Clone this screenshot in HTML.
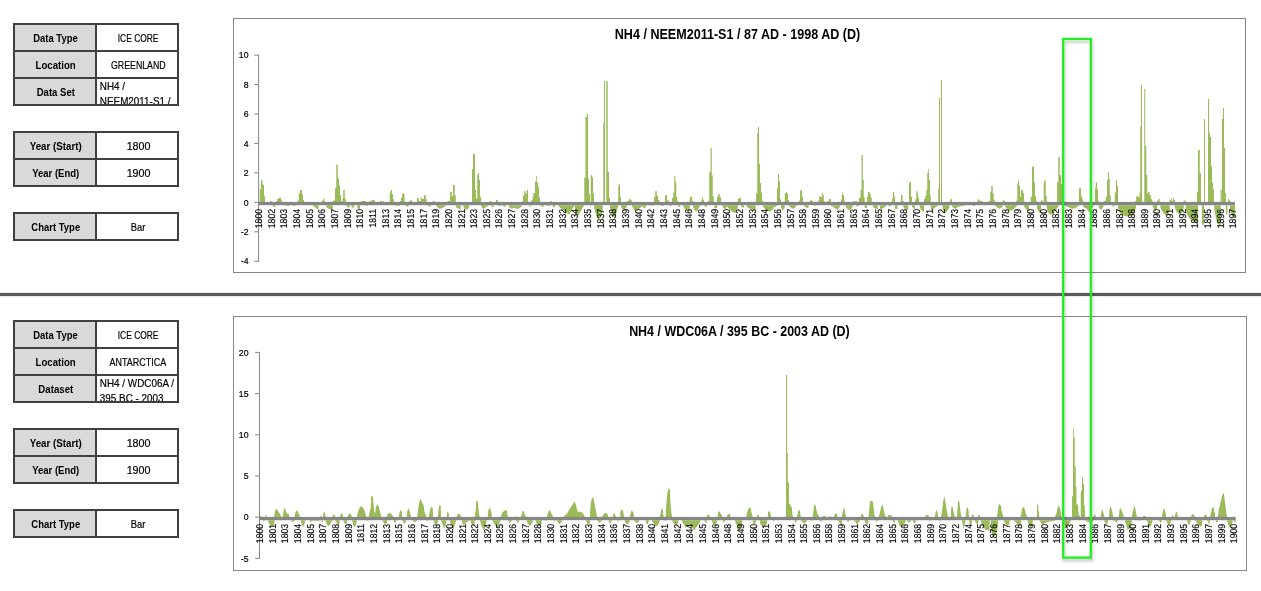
<!DOCTYPE html>
<html><head><meta charset="utf-8"><title>Ice core charts</title>
<style>
html,body{margin:0;padding:0;background:#fff;}
body{will-change:transform;width:1261px;height:591px;position:relative;overflow:hidden;font-family:"Liberation Sans",sans-serif;}
svg{position:absolute;left:0;top:0;}
svg text{font-family:"Liberation Sans",sans-serif;}
.tb{position:absolute;left:13px;width:166px;}
.c{position:absolute;box-sizing:border-box;height:29px;padding-top:3px;border:2px solid #404040;display:flex;align-items:center;justify-content:center;font-size:10.4px;color:#000;white-space:nowrap;overflow:hidden;}
.c.l{left:0;width:84px;padding-left:1.5px;background:#D9D9D9;font-weight:700;}
.c.r{left:82px;width:84px;padding-left:2.5px;background:#fff;-webkit-text-stroke:0.2px #000;}
.c span{display:inline-block;transform:scaleX(0.86);}
.c.l span{transform:scaleX(0.9);}
.c.ml{justify-content:flex-start;align-items:flex-start;white-space:nowrap;}
.c.ml{padding-top:0;padding-left:0}
.c.ml span{transform:scaleX(0.95);transform-origin:0 0;line-height:15px;padding-left:3px;padding-top:0.2px;}
</style></head><body>
<div class="tb" style="top:22.8px;height:81px">
<div class="c l" style="top:0px"><span style="transform:scaleX(0.91)">Data Type</span></div>
<div class="c r" style="top:0px"><span style="transform:scaleX(0.81)">ICE CORE</span></div>
<div class="c l" style="top:27px"><span style="transform:scaleX(0.93)">Location</span></div>
<div class="c r" style="top:27px"><span style="transform:scaleX(0.845)">GREENLAND</span></div>
<div class="c l" style="top:54px"><span style="transform:scaleX(0.92)">Data Set</span></div>
<div class="c r ml" style="top:54px"><span>NH4 /<br>NEEM2011-S1 /</span></div>
</div>
<div class="tb" style="top:130.8px;height:54px">
<div class="c l" style="top:0px"><span style="transform:scaleX(0.94)">Year (Start)</span></div>
<div class="c r" style="top:0px"><span style="transform:scaleX(1.03)">1800</span></div>
<div class="c l" style="top:27px"><span style="transform:scaleX(0.915)">Year (End)</span></div>
<div class="c r" style="top:27px"><span style="transform:scaleX(1.03)">1900</span></div>
</div>
<div class="tb" style="top:211.8px;height:27px">
<div class="c l" style="top:0px"><span style="transform:scaleX(0.912)">Chart Type</span></div>
<div class="c r" style="top:0px"><span style="transform:scaleX(0.9)">Bar</span></div>
</div>
<div class="tb" style="top:319.8px;height:81px">
<div class="c l" style="top:0px"><span style="transform:scaleX(0.91)">Data Type</span></div>
<div class="c r" style="top:0px"><span style="transform:scaleX(0.81)">ICE CORE</span></div>
<div class="c l" style="top:27px"><span style="transform:scaleX(0.93)">Location</span></div>
<div class="c r" style="top:27px"><span style="transform:scaleX(0.865)">ANTARCTICA</span></div>
<div class="c l" style="top:54px"><span style="transform:scaleX(0.93)">Dataset</span></div>
<div class="c r ml" style="top:54px"><span>NH4 / WDC06A /<br>395 BC - 2003</span></div>
</div>
<div class="tb" style="top:427.8px;height:54px">
<div class="c l" style="top:0px"><span style="transform:scaleX(0.94)">Year (Start)</span></div>
<div class="c r" style="top:0px"><span style="transform:scaleX(1.03)">1800</span></div>
<div class="c l" style="top:27px"><span style="transform:scaleX(0.915)">Year (End)</span></div>
<div class="c r" style="top:27px"><span style="transform:scaleX(1.03)">1900</span></div>
</div>
<div class="tb" style="top:508.8px;height:27px">
<div class="c l" style="top:0px"><span style="transform:scaleX(0.912)">Chart Type</span></div>
<div class="c r" style="top:0px"><span style="transform:scaleX(0.9)">Bar</span></div>
</div>
<svg width="1261" height="591" viewBox="0 0 1261 591" style="will-change:transform">
<rect x="233.5" y="18.5" width="1012" height="254" fill="#fff" stroke="#868686" stroke-width="1"/>
<text transform="translate(737.5,39.3) scale(0.873,1)" text-anchor="middle" font-size="14.4" font-weight="700" fill="#000">NH4 / NEEM2011-S1 / 87 AD - 1998 AD (D)</text>
<rect x="258.1" y="54.65" width="1" height="207.08" fill="#868686"/>
<rect x="254.20000000000002" y="54.65" width="4.4" height="1" fill="#868686"/>
<text transform="translate(248.5,58.35) scale(0.97,1)" text-anchor="end" font-size="9.0" fill="#000" stroke="#000" stroke-width="0.2">10</text>
<rect x="254.20000000000002" y="84.09" width="4.4" height="1" fill="#868686"/>
<text transform="translate(248.5,87.79) scale(0.97,1)" text-anchor="end" font-size="9.0" fill="#000" stroke="#000" stroke-width="0.2">8</text>
<rect x="254.20000000000002" y="113.53" width="4.4" height="1" fill="#868686"/>
<text transform="translate(248.5,117.23) scale(0.97,1)" text-anchor="end" font-size="9.0" fill="#000" stroke="#000" stroke-width="0.2">6</text>
<rect x="254.20000000000002" y="142.97" width="4.4" height="1" fill="#868686"/>
<text transform="translate(248.5,146.67) scale(0.97,1)" text-anchor="end" font-size="9.0" fill="#000" stroke="#000" stroke-width="0.2">4</text>
<rect x="254.20000000000002" y="172.41" width="4.4" height="1" fill="#868686"/>
<text transform="translate(248.5,176.11) scale(0.97,1)" text-anchor="end" font-size="9.0" fill="#000" stroke="#000" stroke-width="0.2">2</text>
<rect x="254.20000000000002" y="201.85" width="4.4" height="1" fill="#868686"/>
<text transform="translate(248.5,205.55) scale(0.97,1)" text-anchor="end" font-size="9.0" fill="#000" stroke="#000" stroke-width="0.2">0</text>
<rect x="254.20000000000002" y="231.29" width="4.4" height="1" fill="#868686"/>
<text transform="translate(248.5,234.99) scale(0.97,1)" text-anchor="end" font-size="9.0" fill="#000" stroke="#000" stroke-width="0.2">-2</text>
<rect x="254.20000000000002" y="260.73" width="4.4" height="1" fill="#868686"/>
<text transform="translate(248.5,264.43) scale(0.97,1)" text-anchor="end" font-size="9.0" fill="#000" stroke="#000" stroke-width="0.2">-4</text>
<path d="M259.75 201.90V189.2H261.00V180.3H262.50V184.7H264.00V196.2H265.00V201.90ZM270.00 201.90V200.9H271.75V201.90ZM276.00 201.90V200.9H277.25V198.7H279.00V197.8H281.00V200.6H282.00V201.90ZM297.50 201.90V200.6H298.75V193.2H300.00V190.1H302.00V194.0H303.00V200.0H304.00V201.90ZM322.00 201.90V200.4H323.00V199.0H324.25V200.9H325.00V201.90ZM333.00 201.90V200.4H335.00V188.2H336.25V164.4H337.75V178.4H339.00V185.4H340.00V194.9H341.00V201.2H342.50V198.1H343.25V190.1H344.75V198.7H345.75V201.90ZM361.00 201.90V201.0H366.00V201.90ZM369.75 201.90V200.9H371.75V200.1H374.25V201.0H375.00V201.90ZM380.00 201.90V201.0H382.00V201.90ZM383.00 201.90V201.0H384.00V201.90ZM389.75 201.90V192.4H390.75V190.1H392.00V194.3H393.00V199.3H394.00V201.90ZM399.75 201.90V200.9H401.00V197.4H402.25V193.2H403.75V194.3H404.50V201.2H405.25V201.90ZM409.25 201.90V200.9H410.50V200.1H412.00V201.90ZM417.00 201.90V198.1H418.75V200.9H420.75V197.4H422.00V198.7H424.00V195.2H425.75V199.3H426.75V201.90ZM432.75 201.90V200.9H434.75V201.90ZM447.25 201.90V200.9H450.00V192.1H451.75V196.2H453.00V185.1H454.75V195.3H455.75V201.90ZM472.00 201.90V168.9H473.00V153.8H475.00V190.1H476.00V198.7H477.25V175.0H478.00V173.1H479.00V179.7H480.00V196.8H481.00V201.90ZM489.75 201.90V200.9H491.25V201.90ZM496.00 201.90V200.0H497.75V201.90ZM522.25 201.90V200.9H523.00V195.5H524.25V191.1H525.50V193.6H526.75V190.1H528.00V201.90ZM531.00 201.90V200.6H532.50V196.8H533.25V193.0H535.00V181.6H536.25V176.1H537.00V182.2H538.00V187.3H539.00V197.4H540.00V201.90ZM550.75 201.90V200.9H552.00V201.90ZM584.25 201.90V177.8H585.50V116.9H586.75V114.1H588.00V178.4H589.00V194.0H590.00V201.90ZM590.75 201.90V175.2H592.25V177.8H593.00V193.2H594.00V201.90ZM603.25 201.90V122.9H604.00V81.1H605.00V201.90ZM606.25 201.90V81.1H607.75V172.1H609.00V198.1H610.00V201.90ZM618.25 201.90V186.0H619.00V184.1H620.00V196.5H621.00V201.90ZM627.00 201.90V200.9H629.00V199.3H630.75V200.6H632.00V201.90ZM654.00 201.90V196.8H655.25V191.1H656.75V195.5H658.00V200.0H659.50V201.90ZM665.00 201.90V195.2H667.00V200.4H669.00V201.90ZM672.00 201.90V198.1H673.25V192.4H674.25V176.1H675.25V181.6H676.25V196.8H677.25V200.9H678.00V201.90ZM689.75 201.90V197.2H691.00V196.2H692.00V200.9H693.00V201.90ZM701.25 201.90V200.6H702.25V197.2H703.25V200.0H704.00V201.90ZM708.00 201.90V200.9H709.25V172.1H710.50V147.9H711.75V175.2H712.75V196.5H713.75V201.90ZM717.00 201.90V196.8H718.25V194.0H719.75V197.2H721.00V201.90ZM737.75 201.90V198.7H739.50V197.8H741.00V201.90ZM756.00 201.90V193.6H757.25V133.0H758.00V127.0H759.00V163.8H760.00V183.1H761.00V192.4H762.00V200.9H763.00V201.90ZM777.00 201.90V188.2H778.00V174.0H779.00V181.3H780.00V199.3H781.00V201.90ZM784.75 201.90V193.2H786.00V191.7H787.00V193.6H788.00V200.0H789.00V201.90ZM799.00 201.90V200.6H800.00V190.7H801.00V189.8H802.00V196.8H803.00V201.90ZM809.25 201.90V200.9H810.50V200.0H811.75V200.9H813.00V201.90ZM818.00 201.90V200.6H819.25V196.2H820.75V197.1H822.00V193.0H823.00V194.9H823.75V200.9H824.50V201.90ZM827.00 201.90V200.9H829.00V199.1H830.75V201.90ZM841.00 201.90V199.3H842.00V192.0H842.75V194.9H844.00V200.6H844.75V201.90ZM853.00 201.90V200.9H854.25V201.90ZM855.00 201.90V200.9H856.75V201.90ZM859.00 201.90V197.8H860.50V189.8H861.50V154.9H862.75V179.7H863.75V197.4H864.75V201.90ZM867.00 201.90V197.1H868.00V192.0H869.75V194.0H870.75V197.4H871.75V201.90ZM892.00 201.90V198.7H893.00V192.0H894.25V196.8H895.00V201.90ZM901.00 201.90V194.9H902.50V200.9H903.75V201.90ZM909.00 201.90V183.1H910.00V181.8H911.00V196.8H912.00V201.90ZM915.25 201.90V199.3H916.25V191.1H917.25V193.2H918.00V197.8H919.00V201.90ZM924.00 201.90V198.7H925.25V195.8H926.25V189.8H927.25V172.7H928.25V169.1H929.00V179.7H930.00V194.9H930.75V201.90ZM938.25 201.90V188.2H939.00V97.7H940.00V201.90ZM941.00 201.90V80.1H942.00V201.90ZM949.75 201.90V200.4H950.75V199.1H952.00V201.90ZM977.50 201.90V199.3H978.75V200.6H980.75V200.9H982.50V201.90ZM989.00 201.90V200.9H990.25V191.7H991.25V186.0H992.75V193.6H993.75V200.0H994.75V201.90ZM1002.75 201.90V200.0H1004.00V200.9H1005.00V201.90ZM1016.25 201.90V200.6H1017.25V183.5H1018.00V180.9H1019.00V186.0H1020.00V196.8H1021.00V190.5H1022.00V189.8H1023.00V193.0H1024.00V200.9H1024.50V201.90ZM1030.75 201.90V196.8H1032.00V167.0H1033.00V166.1H1034.00V182.8H1035.00V196.2H1036.00V200.9H1037.00V201.90ZM1041.00 201.90V200.4H1042.75V201.90ZM1043.75 201.90V181.6H1044.75V180.1H1045.75V196.2H1046.75V201.90ZM1057.00 201.90V182.2H1058.25V157.0H1059.75V175.2H1061.00V184.1H1062.25V201.90ZM1079.00 201.90V188.2H1081.00V196.5H1082.00V199.3H1083.00V201.90ZM1095.00 201.90V188.6H1095.75V182.2H1097.00V189.2H1098.00V200.9H1098.75V201.90ZM1103.75 201.90V200.9H1105.75V196.8H1107.00V179.7H1108.00V172.1H1109.00V179.0H1109.75V195.5H1110.75V201.90ZM1114.75 201.90V192.4H1116.00V180.1H1117.00V186.0H1118.00V201.90ZM1135.00 201.90V200.9H1136.25V196.2H1138.00V197.1H1139.50V192.4H1140.25V126.0H1141.00V85.0H1142.00V201.90ZM1144.25 201.90V89.1H1145.25V146.0H1146.25V175.0H1147.25V193.6H1148.00V192.0H1149.50V194.9H1150.75V199.3H1152.00V201.2H1152.75V201.90ZM1157.25 201.90V200.6H1158.50V199.1H1159.75V201.90ZM1169.75 201.90V200.0H1171.00V198.7H1172.00V200.9H1173.00V197.8H1174.00V200.0H1175.00V201.90ZM1183.75 201.90V200.4H1185.75V201.90ZM1197.00 201.90V191.8H1198.00V150.0H1199.75V173.0H1201.00V201.90ZM1204.00 201.90V119.1H1205.00V201.90ZM1208.00 201.90V99.1H1209.00V133.1H1210.00V137.0H1211.00V166.5H1212.00V182.6H1213.00V189.8H1214.00V201.90ZM1220.50 201.90V189.8H1221.75V201.90ZM1222.00 201.90V119.1H1223.00V108.1H1224.00V148.1H1225.00V193.0H1226.00V201.90ZM1228.00 201.90V199.0H1229.00V200.5H1230.25V201.90ZM272.75 205.20V206.7H275.25V205.20ZM284.75 205.20V205.5H285.25V205.6H285.75V205.7H286.25V205.8H286.75V205.9H289.25V205.20ZM292.50 205.20V205.5H292.75V205.6H293.00V205.7H293.50V205.8H293.75V205.9H295.50V205.20ZM312.75 205.20V205.8H313.00V206.0H313.25V206.1H313.50V206.3H313.75V206.4H314.00V206.6H314.25V206.7H314.50V206.9H314.75V207.1H315.00V207.3H315.25V207.5H315.50V207.7H315.75V207.9H316.00V208.1H316.25V208.2H316.50V208.4H316.75V208.6H317.00V208.8H317.25V208.9H318.50V205.20ZM326.00 205.20V206.3H326.25V206.6H326.50V207.0H326.75V207.3H327.00V207.7H327.25V208.0H327.50V208.1H327.75V208.3H328.00V208.4H328.25V208.6H328.50V208.7H328.75V208.9H329.00V209.0H329.25V209.2H329.50V209.3H329.75V209.5H330.25V209.4H331.00V209.3H331.75V209.2H332.75V205.20ZM346.25 205.20V205.7H346.50V206.1H346.75V206.5H347.00V206.8H347.25V207.0H347.50V207.2H347.75V207.4H348.00V207.6H348.25V207.8H348.50V207.9H348.75V207.6H349.00V207.3H349.25V207.0H349.50V206.6H349.75V206.3H350.00V205.9H350.25V205.20ZM351.50 205.20V207.6H354.00V205.20ZM357.25 205.20V206.9H357.50V207.7H357.75V208.3H358.00V208.5H358.25V208.6H358.50V208.8H358.75V209.0H359.00V209.2H360.00V205.20ZM366.00 205.20V205.9H368.00V205.20ZM394.50 205.20V205.5H395.00V205.6H395.50V205.7H396.25V205.8H396.75V205.9H399.75V205.20ZM405.50 205.20V205.9H405.75V206.0H406.00V206.2H406.25V206.3H406.50V206.5H406.75V206.6H407.00V206.7H408.50V205.20ZM427.75 205.20V205.8H428.00V206.0H428.25V206.1H428.50V206.3H428.75V206.5H429.00V206.6H429.25V206.7H430.75V205.20ZM436.50 205.20V206.1H436.75V206.4H437.00V206.7H437.25V207.0H437.50V207.3H437.75V207.6H438.00V207.7H438.25V207.8H438.50V207.9H438.75V208.0H439.00V208.2H439.25V208.3H439.50V208.4H439.75V208.5H440.00V208.6H440.25V208.7H440.50V208.8H441.00V208.6H441.25V208.5H441.50V208.4H441.75V208.2H442.00V208.1H442.25V208.0H442.50V207.9H442.75V207.7H443.00V207.6H443.25V207.5H443.50V207.3H443.75V207.2H444.00V207.0H444.25V206.9H444.50V206.7H444.75V206.6H445.00V206.4H445.25V206.3H445.50V205.20ZM455.75 205.20V206.3H456.00V206.7H456.25V207.1H456.50V207.6H456.75V208.0H457.00V208.3H457.50V208.4H457.75V208.5H458.25V208.6H458.75V208.7H459.00V208.8H459.50V208.9H460.75V205.20ZM463.25 205.20V206.8H463.50V207.2H463.75V207.7H464.00V208.2H464.25V208.6H464.50V208.9H464.75V209.0H465.00V209.1H465.25V209.2H465.50V209.3H466.00V209.4H466.25V209.5H466.50V209.6H466.75V209.7H467.00V209.6H467.25V209.3H467.50V209.0H467.75V208.7H468.00V208.4H468.25V208.1H468.50V207.8H468.75V207.4H469.00V206.8H469.25V205.20ZM481.00 205.20V206.3H481.25V206.7H481.50V207.1H481.75V207.5H482.00V207.7H482.25V207.9H482.50V208.0H482.75V208.2H483.00V208.4H483.25V208.5H483.50V208.7H483.75V208.8H484.00V208.6H484.25V208.4H484.50V208.2H484.75V208.0H485.00V207.7H485.25V207.5H485.50V207.3H485.75V207.1H486.00V207.0H486.25V206.9H486.50V206.8H486.75V206.7H487.00V206.6H487.25V206.4H487.50V206.3H487.75V206.2H488.00V206.0H488.25V205.9H488.50V205.20ZM491.25 205.20V206.7H493.75V205.20ZM498.75 205.20V205.9H501.25V205.20ZM502.50 205.20V205.8H502.75V205.9H503.00V206.1H503.25V206.2H503.50V206.4H503.75V206.5H504.00V206.7H505.75V205.20ZM509.00 205.20V206.6H509.25V207.1H509.50V207.5H509.75V208.0H510.00V208.1H510.25V208.2H510.50V208.3H510.75V208.4H511.00V208.5H511.25V208.6H511.50V208.7H511.75V208.8H512.25V208.7H512.50V208.5H512.75V208.4H513.00V208.3H513.25V208.1H513.50V208.0H513.75V207.8H514.00V207.7H514.25V207.6H514.50V207.8H514.75V207.9H515.00V208.1H515.25V208.2H515.50V208.3H515.75V208.5H516.00V208.6H516.25V208.8H517.25V208.7H518.00V208.6H518.50V208.5H519.00V208.4H519.25V208.2H519.50V208.1H519.75V207.9H520.00V207.7H520.25V207.5H520.50V207.3H520.75V207.1H521.00V206.9H521.25V206.6H521.50V206.3H521.75V205.20ZM529.75 205.20V206.7H531.00V205.20ZM540.00 205.20V205.5H540.25V205.6H540.50V205.8H540.75V205.9H541.00V206.0H541.25V206.2H541.50V206.3H541.75V206.4H542.00V206.6H542.25V206.7H542.50V206.8H542.75V207.0H543.75V205.20ZM545.75 205.20V205.5H546.25V205.6H546.50V205.7H547.00V205.8H547.50V205.9H550.25V205.20ZM552.75 205.20V207.2H555.25V205.20ZM558.50 205.20V206.1H558.75V206.4H559.00V206.6H559.25V206.9H559.50V207.2H559.75V207.4H560.00V207.6H560.25V207.8H560.50V208.0H560.75V208.2H561.00V208.4H561.25V208.6H561.50V208.8H561.75V209.0H562.00V209.2H562.25V209.4H562.50V209.6H562.75V209.8H563.00V210.0H563.25V210.2H563.50V210.4H563.75V210.6H564.00V210.8H564.25V211.0H564.50V211.2H564.75V211.4H565.00V211.6H565.25V211.8H565.50V212.0H565.75V212.2H566.00V212.4H566.25V212.6H566.50V212.8H566.75V213.1H567.00V213.3H567.25V213.5H567.50V213.7H567.75V213.9H568.00V214.2H568.25V214.4H568.50V214.6H568.75V214.8H569.00V214.4H569.25V214.0H569.50V213.6H569.75V213.2H570.00V212.8H570.25V212.4H570.50V212.0H570.75V211.6H571.00V211.2H571.25V210.8H571.50V210.4H571.75V210.0H572.00V209.6H572.25V209.2H572.50V208.7H572.75V208.3H573.00V207.9H573.25V207.5H573.50V207.1H573.75V206.8H574.00V206.7H574.25V206.5H574.50V206.3H574.75V206.2H575.00V215.8H576.50V215.7H576.75V215.5H577.00V215.4H577.25V215.3H577.50V215.2H577.75V215.0H578.00V214.9H578.25V214.8H578.50V214.7H578.75V214.5H579.00V214.0H579.25V213.6H579.50V213.2H579.75V212.7H580.00V212.3H580.25V211.9H580.50V211.5H580.75V211.0H581.00V210.6H581.25V210.1H581.50V209.6H581.75V209.1H582.00V208.6H582.25V208.1H582.50V207.6H582.75V207.1H583.00V206.8H583.25V206.5H583.50V206.3H583.75V206.1H584.00V205.20ZM590.00 205.20V206.3H590.75V205.20ZM594.00 205.20V207.1H594.25V208.2H594.50V209.3H594.75V210.3H595.00V211.3H595.25V212.3H595.50V213.3H595.75V214.3H596.00V215.3H596.25V216.0H596.50V216.4H596.75V216.8H597.00V217.1H597.25V217.5H597.50V217.9H597.75V218.3H598.00V218.6H598.25V219.0H598.50V219.4H598.75V219.5H599.00V219.2H599.25V218.8H599.50V218.5H599.75V218.1H600.00V217.8H600.25V217.4H600.50V217.1H600.75V216.7H601.00V216.4H601.25V216.0H601.50V215.4H601.75V214.2H602.00V213.0H602.25V211.9H602.50V210.7H602.75V205.20ZM610.00 205.20V208.0H610.25V209.0H610.50V209.9H610.75V210.8H611.00V211.5H611.25V212.3H611.50V213.0H611.75V213.7H612.00V214.4H612.25V215.1H612.50V215.8H612.75V216.5H613.00V217.1H613.25V217.0H613.50V216.8H613.75V216.7H614.00V216.6H614.25V216.5H614.50V216.3H614.75V216.2H615.00V216.1H615.25V216.0H615.50V215.8H615.75V214.8H616.00V213.8H616.25V212.8H616.50V211.8H616.75V210.8H617.00V209.8H617.25V208.8H617.50V208.0H617.75V207.4H618.00V206.8H618.25V205.20ZM621.00 205.20V206.9H621.25V207.4H621.50V207.9H621.75V208.4H622.00V208.9H622.25V209.0H622.50V209.1H622.75V209.2H623.00V209.3H623.25V209.5H623.50V209.6H623.75V209.7H624.00V209.8H624.25V209.9H624.50V210.0H625.00V209.5H625.25V209.1H625.50V208.6H625.75V208.1H626.00V207.7H626.25V207.2H626.50V206.7H626.75V206.3H627.00V206.0H627.25V205.20ZM632.00 205.20V206.1H632.25V206.7H632.50V207.3H632.75V207.8H633.00V208.2H633.25V208.6H633.50V209.1H633.75V209.5H634.00V209.9H634.25V210.3H634.50V210.7H635.00V210.6H635.50V210.5H636.00V210.4H636.25V210.3H636.75V210.2H637.00V210.1H637.25V210.0H637.50V209.8H637.75V209.6H638.00V209.4H638.25V209.2H638.50V209.0H638.75V208.9H639.00V208.7H639.25V208.5H639.50V208.3H639.75V208.1H640.00V207.9H640.25V207.7H640.50V207.4H640.75V207.2H641.00V207.0H641.25V206.8H641.50V206.6H641.75V206.4H642.00V206.5H642.25V206.8H642.50V207.0H642.75V207.3H643.00V207.5H643.25V207.8H643.50V208.1H643.75V208.3H644.00V208.6H644.25V208.3H644.50V208.0H644.75V207.7H645.00V207.4H645.25V207.1H645.50V206.8H645.75V206.5H646.00V206.3H646.25V206.0H646.50V205.8H646.75V205.20ZM649.75 205.20V205.5H650.25V205.6H650.50V205.7H650.75V205.8H651.25V205.9H653.00V205.20ZM661.25 205.20V205.9H663.75V205.20ZM669.50 205.20V205.9H671.50V205.20ZM678.00 205.20V206.7H680.25V205.20ZM682.75 205.20V205.9H683.00V206.3H683.25V206.6H683.50V206.9H683.75V207.3H684.00V207.7H684.25V208.1H684.50V208.4H684.75V208.8H685.00V209.2H685.25V209.6H685.50V210.0H685.75V210.2H686.00V210.4H686.25V210.5H686.50V210.6H686.75V210.8H687.00V210.9H687.25V211.1H687.50V211.2H687.75V211.4H688.00V211.1H688.25V210.7H688.50V210.3H688.75V209.9H689.00V209.5H689.25V209.1H689.50V208.3H689.75V205.20ZM693.00 205.20V206.7H693.25V207.4H693.50V208.0H693.75V208.6H694.00V209.1H694.25V209.4H694.50V209.7H694.75V210.1H695.00V210.4H695.25V210.7H695.50V211.1H695.75V211.4H696.00V211.2H696.25V211.1H696.50V210.9H696.75V210.7H697.00V210.6H697.25V210.4H697.50V210.2H697.75V209.9H698.00V209.4H698.25V208.9H698.50V208.4H698.75V207.9H699.00V207.4H699.25V206.9H699.50V206.4H699.75V206.2H700.00V206.1H700.25V205.9H700.50V205.8H700.75V205.20ZM704.00 205.20V205.6H704.25V205.9H704.50V206.1H704.75V206.3H705.00V206.4H705.25V206.5H705.50V206.6H705.75V206.7H706.00V206.9H706.25V207.0H707.00V205.20ZM714.50 205.20V208.0H717.00V205.20ZM722.25 205.20V206.3H722.50V206.7H722.75V207.1H723.00V207.5H723.25V207.8H723.50V208.1H723.75V208.3H724.00V208.6H724.25V208.8H724.50V209.1H724.75V209.3H725.00V209.4H725.25V209.0H725.50V208.6H725.75V208.1H726.00V207.7H726.25V207.3H726.50V206.9H726.75V206.5H727.25V206.8H727.50V207.1H727.75V207.4H728.00V207.6H728.25V207.9H728.50V208.2H728.75V208.5H729.00V208.8H729.25V209.0H729.50V209.3H729.75V209.5H730.00V209.8H730.25V210.0H730.50V210.3H730.75V210.5H731.00V210.8H731.25V211.0H731.50V211.3H731.75V211.5H732.00V211.6H732.25V211.8H732.50V211.9H732.75V212.0H733.00V212.2H733.25V212.3H733.50V212.5H733.75V212.6H734.00V212.7H735.75V212.4H736.00V211.8H736.25V211.3H736.50V210.7H736.75V210.1H737.00V209.6H737.25V208.8H737.50V207.9H737.75V205.20ZM741.00 205.20V206.2H741.25V206.5H741.50V206.7H741.75V207.0H742.00V207.3H742.25V207.5H742.50V207.6H744.00V205.20ZM746.50 205.20V206.4H746.75V206.6H747.00V206.8H747.25V207.1H747.50V207.3H747.75V207.5H748.00V207.8H748.25V208.0H748.50V208.1H748.75V208.2H749.00V208.3H749.25V208.4H749.50V208.5H749.75V208.6H750.00V208.8H750.25V208.9H750.50V209.0H750.75V209.1H751.00V209.2H751.25V209.3H751.50V209.4H751.75V209.5H752.50V209.6H753.50V209.7H755.50V205.20ZM763.00 205.20V206.6H763.25V207.0H763.50V207.4H763.75V207.7H764.00V208.1H764.25V208.4H764.50V208.5H764.75V208.7H765.00V208.9H765.25V209.1H765.50V209.2H765.75V209.4H766.00V209.6H766.25V209.8H766.50V210.0H766.75V210.1H767.00V210.3H767.25V210.4H767.50V210.6H767.75V210.7H768.00V210.9H768.25V211.0H768.50V211.2H768.75V211.3H769.00V211.4H769.25V211.6H769.50V211.7H770.00V211.5H770.25V211.3H770.50V211.1H770.75V211.0H771.00V210.8H771.25V210.6H771.50V210.5H771.75V210.3H772.00V210.1H772.25V209.7H772.50V209.4H772.75V209.0H773.00V208.6H773.25V208.2H773.50V207.8H773.75V207.4H774.00V207.2H774.25V207.1H774.50V207.0H775.00V206.9H775.25V206.8H775.75V206.7H776.00V206.5H776.25V206.3H776.50V206.1H776.75V206.0H777.00V205.20ZM781.00 205.20V207.6H781.25V208.2H781.50V208.8H781.75V209.5H782.00V210.1H782.25V210.7H782.50V210.5H782.75V210.1H783.00V209.8H783.25V209.5H783.50V209.1H783.75V208.8H784.00V208.5H784.25V208.0H784.50V207.1H784.75V205.20ZM789.00 205.20V206.1H789.25V206.4H789.50V206.6H789.75V206.9H790.00V207.1H790.25V207.3H790.50V207.5H790.75V207.6H791.00V207.8H791.25V208.0H791.50V208.1H791.75V208.3H792.00V208.5H792.25V208.6H792.50V208.8H793.00V208.7H793.25V208.5H793.50V208.4H793.75V208.2H794.00V208.1H794.25V208.0H794.50V207.8H794.75V207.7H795.00V207.5H795.25V207.3H795.50V207.0H795.75V206.7H796.00V206.4H796.25V205.20ZM804.25 205.20V206.1H804.50V206.4H804.75V206.7H805.00V207.0H805.25V207.1H805.50V207.2H805.75V207.3H806.00V207.4H806.25V207.5H806.50V207.6H806.75V207.8H807.00V207.9H807.25V208.0H808.50V205.20ZM813.75 205.20V205.9H815.50V205.20ZM830.75 205.20V205.6H831.00V205.8H831.25V205.9H831.50V206.1H831.75V206.2H832.00V206.3H832.25V206.5H832.50V206.7H832.75V206.8H833.00V207.0H833.25V207.2H833.50V207.3H833.75V207.5H834.00V207.6H834.25V207.8H834.50V208.0H834.75V208.1H835.00V208.3H835.25V208.4H835.50V208.6H835.75V208.8H836.00V208.9H836.25V209.1H836.50V209.2H836.75V209.4H837.00V209.5H837.25V209.7H837.50V209.6H837.75V209.2H838.00V208.9H838.25V208.6H838.50V208.3H838.75V208.0H839.00V207.7H839.25V207.4H839.50V207.0H839.75V206.7H840.00V206.4H840.25V205.20ZM845.50 205.20V206.4H845.75V206.8H846.00V207.2H846.25V207.6H846.50V207.9H846.75V208.2H847.00V208.5H847.25V208.8H847.50V209.0H847.75V209.3H848.00V209.6H848.25V209.9H848.50V210.1H848.75V210.0H849.00V209.9H849.25V209.7H849.50V209.6H849.75V209.5H850.00V209.4H850.25V209.2H850.50V209.1H850.75V209.0H851.00V208.8H851.25V208.4H851.50V208.0H851.75V207.6H852.00V207.2H852.25V206.8H852.50V206.4H852.75V206.0H853.00V205.20ZM856.25 205.20V206.3H858.75V205.20ZM864.75 205.20V208.0H867.00V205.20ZM872.75 205.20V206.3H873.00V206.7H873.25V207.2H873.50V207.6H873.75V207.7H874.00V207.8H874.25V208.0H874.50V208.1H874.75V208.2H875.00V208.3H875.25V208.5H875.50V208.6H875.75V208.7H876.00V208.8H876.25V208.9H877.75V205.20ZM879.75 205.20V207.2H880.00V207.7H880.25V208.3H880.50V208.8H880.75V209.4H881.25V209.2H881.50V209.1H881.75V208.9H882.00V208.8H882.25V208.6H882.50V208.5H882.75V208.3H883.00V208.2H883.25V208.0H883.50V207.9H883.75V207.7H884.00V207.6H884.25V207.4H884.50V207.3H884.75V207.1H885.00V207.0H885.25V206.8H885.50V206.6H885.75V206.5H886.00V205.20ZM888.50 205.20V206.3H891.00V205.20ZM895.00 205.20V208.9H897.50V205.20ZM903.25 205.20V206.5H903.50V207.0H903.75V207.6H904.00V208.1H904.25V208.3H904.50V208.5H904.75V208.6H905.00V208.8H905.25V208.9H905.50V209.1H905.75V209.2H906.00V209.4H906.25V209.5H906.50V209.7H908.25V205.20ZM912.00 205.20V206.5H912.25V207.0H912.50V207.6H912.75V207.8H913.00V208.0H913.25V208.2H913.50V208.4H913.75V208.6H914.00V208.8H914.25V208.9H915.00V205.20ZM919.75 205.20V207.1H920.00V207.8H920.25V208.5H920.50V209.3H920.75V209.7H921.00V209.9H921.25V210.1H921.50V210.3H921.75V210.6H922.00V210.8H922.25V211.0H922.50V211.2H922.75V211.4H924.00V205.20ZM930.75 205.20V207.5H931.00V208.6H931.25V209.7H931.50V210.7H931.75V210.5H932.00V210.2H932.25V209.9H932.50V209.7H932.75V209.4H933.00V209.1H933.25V208.9H933.50V208.7H933.75V208.5H934.00V208.3H934.25V208.1H934.50V207.9H934.75V207.8H935.00V207.6H935.25V207.4H935.50V207.2H935.75V207.0H936.00V206.9H936.25V206.7H936.50V206.5H936.75V206.4H937.00V206.2H937.25V206.0H937.50V205.9H937.75V205.7H938.00V205.6H938.25V205.20ZM942.50 205.20V207.4H942.75V208.8H943.00V210.2H943.25V211.0H943.50V211.4H943.75V211.8H944.00V212.2H944.25V212.6H944.50V213.0H944.75V213.2H945.00V213.0H945.25V212.7H945.50V212.5H945.75V212.2H946.00V212.0H946.25V211.7H946.50V211.5H946.75V211.2H947.00V210.8H947.25V210.5H947.50V210.2H947.75V209.8H948.00V209.5H948.25V209.2H948.50V208.8H948.75V208.4H949.00V207.9H949.25V207.4H949.50V205.20ZM952.00 205.20V206.1H952.25V206.5H952.50V206.9H952.75V207.3H953.00V207.6H953.25V207.8H953.50V207.9H953.75V208.1H954.00V208.2H954.25V208.3H954.50V208.5H954.75V208.6H955.00V208.8H955.50V208.6H955.75V208.4H956.00V208.2H956.25V208.0H956.50V207.9H956.75V207.7H957.00V207.5H957.25V207.3H957.50V207.2H957.75V207.1H958.00V207.0H958.50V206.9H958.75V206.8H959.25V206.7H959.50V206.6H960.00V206.5H960.25V206.4H960.75V206.3H961.00V206.2H961.50V206.1H961.75V206.0H962.25V205.9H963.25V205.8H964.25V205.7H965.25V205.6H966.00V205.20ZM973.00 205.20V205.9H975.00V205.20ZM995.25 205.20V205.9H995.50V206.1H995.75V206.4H996.00V206.6H996.25V206.8H996.50V207.0H996.75V207.2H997.00V207.4H997.25V207.6H997.50V207.8H997.75V208.0H998.00V208.2H998.25V208.3H998.50V208.5H998.75V208.7H999.00V208.8H999.25V208.7H999.50V208.6H999.75V208.5H1000.00V208.3H1000.25V208.2H1000.50V208.1H1000.75V208.0H1001.00V207.8H1001.25V207.7H1001.50V207.6H1001.75V207.3H1002.00V207.1H1002.25V206.9H1002.50V206.6H1002.75V205.20ZM1005.00 205.20V206.3H1005.25V206.6H1005.50V207.0H1005.75V207.3H1006.00V207.6H1006.25V207.9H1006.50V208.1H1006.75V208.4H1007.00V208.6H1007.25V208.9H1007.50V209.1H1007.75V209.4H1008.00V209.7H1008.25V209.9H1008.50V210.1H1008.75V210.2H1009.00V210.3H1009.50V210.4H1009.75V210.5H1010.25V210.6H1010.75V210.7H1011.00V210.8H1011.25V210.6H1011.50V210.4H1011.75V210.2H1012.00V210.0H1012.25V209.8H1012.50V209.6H1012.75V209.4H1013.00V209.3H1013.25V209.1H1013.50V208.9H1013.75V208.7H1014.00V208.5H1014.25V208.2H1014.50V208.0H1014.75V207.8H1015.00V207.6H1015.25V207.4H1015.50V207.2H1015.75V207.0H1016.00V206.7H1016.25V206.5H1016.50V206.3H1016.75V205.20ZM1024.00 205.20V206.5H1024.25V206.8H1024.50V207.2H1024.75V207.6H1025.00V207.9H1025.25V208.2H1025.50V208.5H1025.75V208.8H1026.00V209.1H1026.25V209.4H1026.50V209.6H1026.75V209.9H1027.00V210.2H1027.25V210.5H1027.50V210.8H1029.00V205.20ZM1037.00 205.20V208.0H1037.25V209.0H1037.50V210.1H1037.75V210.5H1038.00V210.8H1038.25V211.2H1038.50V211.5H1038.75V211.9H1039.00V212.3H1039.25V212.6H1039.50V213.0H1041.00V205.20ZM1046.75 205.20V208.1H1047.00V209.3H1047.25V210.6H1047.50V211.8H1047.75V212.2H1048.00V212.4H1048.25V212.7H1048.50V212.9H1048.75V213.1H1049.00V213.4H1049.25V213.6H1049.50V213.8H1049.75V214.0H1050.00V214.3H1050.25V214.5H1051.00V214.4H1051.50V214.3H1052.00V214.2H1052.50V214.1H1053.00V214.0H1053.50V213.9H1053.75V213.3H1054.00V212.5H1054.25V211.7H1054.50V210.9H1054.75V210.1H1056.00V209.9H1056.25V209.5H1056.50V209.1H1056.75V208.7H1057.00V208.3H1057.25V207.9H1057.50V207.6H1057.75V207.2H1058.00V206.9H1058.25V206.7H1058.50V206.4H1058.75V205.20ZM1064.25 205.20V205.5H1064.50V205.6H1064.75V205.7H1065.00V205.8H1065.25V205.9H1065.50V206.0H1065.75V206.1H1066.00V206.2H1066.25V206.3H1066.50V206.4H1066.75V206.5H1067.00V206.6H1067.25V206.7H1067.50V206.8H1067.75V206.9H1068.00V207.0H1068.25V207.1H1068.50V207.2H1068.75V207.3H1069.00V207.4H1069.25V207.6H1069.50V207.7H1069.75V207.8H1070.00V207.9H1070.25V208.0H1070.50V208.1H1070.75V208.3H1071.00V208.4H1071.25V208.5H1071.50V208.6H1071.75V208.7H1072.00V208.9H1072.25V208.8H1072.50V208.7H1073.00V208.6H1073.25V208.5H1073.75V208.4H1074.25V208.3H1074.50V208.2H1075.00V208.1H1075.25V208.0H1075.75V207.8H1076.00V207.6H1076.25V207.5H1076.50V207.3H1076.75V207.2H1077.00V207.0H1077.25V206.8H1077.50V206.7H1077.75V206.5H1078.00V206.3H1078.25V206.2H1078.50V206.0H1078.75V205.9H1079.00V205.20ZM1083.00 205.20V206.3H1083.25V206.6H1083.50V206.9H1083.75V207.2H1084.00V207.5H1084.25V207.7H1084.50V207.8H1084.75V207.9H1085.00V208.1H1085.25V208.2H1085.50V208.3H1085.75V208.4H1086.00V208.6H1086.25V208.7H1086.50V208.8H1086.75V209.1H1087.00V209.4H1087.25V209.7H1087.50V210.0H1087.75V210.4H1088.00V210.7H1088.25V211.0H1088.50V211.4H1088.75V211.7H1089.00V212.0H1090.25V205.20ZM1092.00 205.20V207.6H1093.00V205.20ZM1098.75 205.20V206.7H1099.00V207.3H1099.25V208.0H1099.50V208.6H1099.75V208.9H1100.00V209.1H1100.25V209.2H1100.50V209.3H1100.75V209.4H1101.00V209.6H1101.25V209.7H1101.50V209.4H1101.75V208.9H1102.00V208.4H1102.25V208.0H1102.50V207.5H1102.75V207.0H1103.00V206.6H1103.25V206.4H1103.50V206.2H1103.75V205.20ZM1112.00 205.20V206.3H1114.75V205.20ZM1118.00 205.20V207.9H1118.25V208.9H1118.50V209.9H1118.75V210.8H1119.00V211.2H1119.25V211.6H1119.50V211.9H1119.75V212.3H1120.00V212.7H1120.25V213.0H1120.50V213.4H1120.75V213.8H1121.00V214.0H1121.25V214.1H1121.50V214.3H1121.75V214.4H1122.00V214.5H1122.25V214.6H1122.50V214.8H1122.75V214.9H1123.00V215.0H1123.25V215.1H1123.50V215.2H1123.75V215.4H1124.00V215.5H1124.25V215.6H1124.50V215.7H1124.75V215.8H1125.00V215.9H1125.25V216.0H1125.50V216.1H1125.75V216.2H1126.00V216.4H1126.25V216.5H1126.50V216.4H1127.00V216.3H1127.50V216.2H1128.00V216.1H1128.50V216.0H1129.00V215.9H1129.50V215.8H1129.75V215.7H1130.00V215.6H1130.25V215.5H1130.50V215.4H1130.75V215.3H1131.00V215.2H1131.25V215.1H1131.50V215.0H1131.75V214.9H1132.00V214.8H1132.25V214.7H1132.50V214.6H1132.75V214.3H1133.00V213.8H1133.25V213.4H1133.50V212.9H1133.75V212.5H1134.00V212.0H1134.25V211.5H1134.50V211.1H1134.75V210.6H1135.00V210.2H1135.25V209.4H1135.50V208.7H1135.75V207.9H1136.00V205.20ZM1152.75 205.20V206.9H1153.00V207.5H1153.25V208.1H1153.50V208.8H1153.75V209.1H1154.00V209.3H1154.25V209.6H1154.50V209.8H1154.75V210.1H1155.00V210.3H1155.25V210.6H1155.50V210.7H1155.75V210.2H1156.00V209.7H1156.25V209.2H1156.50V208.7H1156.75V208.1H1157.00V206.9H1157.25V205.20ZM1160.25 205.20V207.0H1160.50V207.7H1160.75V208.3H1161.00V208.9H1161.25V209.6H1161.50V210.2H1161.75V210.5H1162.00V210.9H1162.25V211.3H1162.50V211.7H1162.75V212.0H1163.00V212.4H1163.25V212.8H1163.50V213.2H1163.75V213.5H1164.00V213.9H1164.25V214.1H1164.50V214.3H1164.75V214.5H1165.00V214.7H1165.25V214.9H1165.50V215.0H1165.75V215.2H1166.00V215.4H1166.25V215.6H1166.50V215.8H1166.75V215.6H1167.00V215.3H1167.25V215.0H1167.50V214.8H1167.75V214.5H1168.00V214.2H1168.25V213.9H1168.50V213.6H1168.75V213.3H1169.00V212.3H1169.25V211.3H1169.50V210.2H1169.75V205.20ZM1174.75 205.20V207.6H1175.00V208.2H1175.25V208.9H1175.50V209.5H1175.75V210.2H1176.00V210.8H1176.25V211.4H1176.50V211.7H1176.75V212.0H1177.00V212.2H1177.25V212.5H1177.50V212.7H1177.75V213.0H1178.00V213.2H1178.25V213.4H1178.50V213.7H1178.75V213.9H1179.00V214.2H1179.25V214.4H1179.50V214.7H1179.75V214.4H1180.00V214.2H1180.25V213.9H1180.50V213.6H1180.75V213.3H1181.00V213.0H1181.25V212.8H1181.50V212.5H1181.75V212.2H1182.00V211.9H1182.25V211.6H1182.50V211.2H1182.75V210.5H1183.00V209.9H1183.25V209.2H1183.50V208.5H1183.75V205.20ZM1185.75 205.20V208.9H1186.00V210.3H1186.25V211.7H1186.50V213.1H1186.75V213.7H1187.00V214.2H1187.25V214.7H1187.50V215.2H1187.75V215.7H1188.00V216.2H1188.25V216.7H1188.50V217.2H1188.75V217.7H1189.00V218.0H1189.25V218.2H1189.50V218.4H1189.75V218.6H1190.00V218.8H1190.25V219.1H1190.50V219.3H1190.75V219.5H1191.00V219.7H1191.25V220.0H1191.50V220.2H1191.75V220.3H1192.00V220.6H1192.25V220.9H1192.50V221.1H1192.75V221.2H1193.00V221.3H1193.25V221.4H1193.50V221.6H1193.75V221.7H1194.00V221.8H1194.25V222.0H1194.50V222.1H1194.75V222.2H1195.00V222.4H1195.25V222.5H1195.50V222.6H1195.75V222.7H1196.00V222.8H1198.00V205.20ZM1202.00 205.20V224.7H1204.00V205.20ZM1214.25 205.20V208.8H1214.50V210.5H1214.75V212.1H1215.00V213.8H1215.25V215.1H1215.50V216.2H1215.75V217.4H1216.00V218.6H1216.25V219.8H1216.50V220.9H1216.75V222.0H1217.00V222.4H1217.25V222.8H1217.50V223.2H1217.75V223.6H1218.00V224.0H1218.25V224.4H1218.50V224.8H1218.75V225.2H1219.00V225.6H1219.25V225.8H1220.75V205.20ZM1226.00 205.20V214.4H1227.50V205.20ZM1230.00 205.20V208.8H1230.25V210.2H1230.50V211.6H1230.75V212.4H1231.00V213.0H1231.25V213.6H1231.50V214.1H1231.75V214.7H1232.00V215.3H1232.25V215.9H1232.50V216.5H1232.75V217.0H1233.00V217.6H1233.25V217.8H1235.00V205.20Z" fill="#9BBB59"/>
<rect x="258.1" y="201.9" width="976.8000000000001" height="3.30" fill="#868686"/>
<text transform="translate(262.05,208.9) rotate(-90) scale(1,1.13)" text-rendering="geometricPrecision" text-anchor="end" font-size="8.7" fill="#000" stroke="#000" stroke-width="0.12">1800</text>
<text transform="translate(274.70,208.9) rotate(-90) scale(1,1.13)" text-rendering="geometricPrecision" text-anchor="end" font-size="8.7" fill="#000" stroke="#000" stroke-width="0.12">1802</text>
<text transform="translate(287.36,208.9) rotate(-90) scale(1,1.13)" text-rendering="geometricPrecision" text-anchor="end" font-size="8.7" fill="#000" stroke="#000" stroke-width="0.12">1803</text>
<text transform="translate(300.01,208.9) rotate(-90) scale(1,1.13)" text-rendering="geometricPrecision" text-anchor="end" font-size="8.7" fill="#000" stroke="#000" stroke-width="0.12">1804</text>
<text transform="translate(312.67,208.9) rotate(-90) scale(1,1.13)" text-rendering="geometricPrecision" text-anchor="end" font-size="8.7" fill="#000" stroke="#000" stroke-width="0.12">1805</text>
<text transform="translate(325.32,208.9) rotate(-90) scale(1,1.13)" text-rendering="geometricPrecision" text-anchor="end" font-size="8.7" fill="#000" stroke="#000" stroke-width="0.12">1806</text>
<text transform="translate(337.97,208.9) rotate(-90) scale(1,1.13)" text-rendering="geometricPrecision" text-anchor="end" font-size="8.7" fill="#000" stroke="#000" stroke-width="0.12">1807</text>
<text transform="translate(350.63,208.9) rotate(-90) scale(1,1.13)" text-rendering="geometricPrecision" text-anchor="end" font-size="8.7" fill="#000" stroke="#000" stroke-width="0.12">1809</text>
<text transform="translate(363.28,208.9) rotate(-90) scale(1,1.13)" text-rendering="geometricPrecision" text-anchor="end" font-size="8.7" fill="#000" stroke="#000" stroke-width="0.12">1810</text>
<text transform="translate(375.94,208.9) rotate(-90) scale(1,1.13)" text-rendering="geometricPrecision" text-anchor="end" font-size="8.7" fill="#000" stroke="#000" stroke-width="0.12">1811</text>
<text transform="translate(388.59,208.9) rotate(-90) scale(1,1.13)" text-rendering="geometricPrecision" text-anchor="end" font-size="8.7" fill="#000" stroke="#000" stroke-width="0.12">1813</text>
<text transform="translate(401.24,208.9) rotate(-90) scale(1,1.13)" text-rendering="geometricPrecision" text-anchor="end" font-size="8.7" fill="#000" stroke="#000" stroke-width="0.12">1814</text>
<text transform="translate(413.90,208.9) rotate(-90) scale(1,1.13)" text-rendering="geometricPrecision" text-anchor="end" font-size="8.7" fill="#000" stroke="#000" stroke-width="0.12">1815</text>
<text transform="translate(426.55,208.9) rotate(-90) scale(1,1.13)" text-rendering="geometricPrecision" text-anchor="end" font-size="8.7" fill="#000" stroke="#000" stroke-width="0.12">1817</text>
<text transform="translate(439.21,208.9) rotate(-90) scale(1,1.13)" text-rendering="geometricPrecision" text-anchor="end" font-size="8.7" fill="#000" stroke="#000" stroke-width="0.12">1819</text>
<text transform="translate(451.86,208.9) rotate(-90) scale(1,1.13)" text-rendering="geometricPrecision" text-anchor="end" font-size="8.7" fill="#000" stroke="#000" stroke-width="0.12">1820</text>
<text transform="translate(464.51,208.9) rotate(-90) scale(1,1.13)" text-rendering="geometricPrecision" text-anchor="end" font-size="8.7" fill="#000" stroke="#000" stroke-width="0.12">1821</text>
<text transform="translate(477.17,208.9) rotate(-90) scale(1,1.13)" text-rendering="geometricPrecision" text-anchor="end" font-size="8.7" fill="#000" stroke="#000" stroke-width="0.12">1823</text>
<text transform="translate(489.82,208.9) rotate(-90) scale(1,1.13)" text-rendering="geometricPrecision" text-anchor="end" font-size="8.7" fill="#000" stroke="#000" stroke-width="0.12">1825</text>
<text transform="translate(502.48,208.9) rotate(-90) scale(1,1.13)" text-rendering="geometricPrecision" text-anchor="end" font-size="8.7" fill="#000" stroke="#000" stroke-width="0.12">1826</text>
<text transform="translate(515.13,208.9) rotate(-90) scale(1,1.13)" text-rendering="geometricPrecision" text-anchor="end" font-size="8.7" fill="#000" stroke="#000" stroke-width="0.12">1827</text>
<text transform="translate(527.78,208.9) rotate(-90) scale(1,1.13)" text-rendering="geometricPrecision" text-anchor="end" font-size="8.7" fill="#000" stroke="#000" stroke-width="0.12">1828</text>
<text transform="translate(540.44,208.9) rotate(-90) scale(1,1.13)" text-rendering="geometricPrecision" text-anchor="end" font-size="8.7" fill="#000" stroke="#000" stroke-width="0.12">1830</text>
<text transform="translate(553.09,208.9) rotate(-90) scale(1,1.13)" text-rendering="geometricPrecision" text-anchor="end" font-size="8.7" fill="#000" stroke="#000" stroke-width="0.12">1831</text>
<text transform="translate(565.75,208.9) rotate(-90) scale(1,1.13)" text-rendering="geometricPrecision" text-anchor="end" font-size="8.7" fill="#000" stroke="#000" stroke-width="0.12">1832</text>
<text transform="translate(578.40,208.9) rotate(-90) scale(1,1.13)" text-rendering="geometricPrecision" text-anchor="end" font-size="8.7" fill="#000" stroke="#000" stroke-width="0.12">1834</text>
<text transform="translate(591.05,208.9) rotate(-90) scale(1,1.13)" text-rendering="geometricPrecision" text-anchor="end" font-size="8.7" fill="#000" stroke="#000" stroke-width="0.12">1835</text>
<text transform="translate(603.71,208.9) rotate(-90) scale(1,1.13)" text-rendering="geometricPrecision" text-anchor="end" font-size="8.7" fill="#000" stroke="#000" stroke-width="0.12">1837</text>
<text transform="translate(616.36,208.9) rotate(-90) scale(1,1.13)" text-rendering="geometricPrecision" text-anchor="end" font-size="8.7" fill="#000" stroke="#000" stroke-width="0.12">1838</text>
<text transform="translate(629.02,208.9) rotate(-90) scale(1,1.13)" text-rendering="geometricPrecision" text-anchor="end" font-size="8.7" fill="#000" stroke="#000" stroke-width="0.12">1839</text>
<text transform="translate(641.67,208.9) rotate(-90) scale(1,1.13)" text-rendering="geometricPrecision" text-anchor="end" font-size="8.7" fill="#000" stroke="#000" stroke-width="0.12">1840</text>
<text transform="translate(654.32,208.9) rotate(-90) scale(1,1.13)" text-rendering="geometricPrecision" text-anchor="end" font-size="8.7" fill="#000" stroke="#000" stroke-width="0.12">1842</text>
<text transform="translate(666.98,208.9) rotate(-90) scale(1,1.13)" text-rendering="geometricPrecision" text-anchor="end" font-size="8.7" fill="#000" stroke="#000" stroke-width="0.12">1843</text>
<text transform="translate(679.63,208.9) rotate(-90) scale(1,1.13)" text-rendering="geometricPrecision" text-anchor="end" font-size="8.7" fill="#000" stroke="#000" stroke-width="0.12">1845</text>
<text transform="translate(692.29,208.9) rotate(-90) scale(1,1.13)" text-rendering="geometricPrecision" text-anchor="end" font-size="8.7" fill="#000" stroke="#000" stroke-width="0.12">1846</text>
<text transform="translate(704.94,208.9) rotate(-90) scale(1,1.13)" text-rendering="geometricPrecision" text-anchor="end" font-size="8.7" fill="#000" stroke="#000" stroke-width="0.12">1848</text>
<text transform="translate(717.59,208.9) rotate(-90) scale(1,1.13)" text-rendering="geometricPrecision" text-anchor="end" font-size="8.7" fill="#000" stroke="#000" stroke-width="0.12">1849</text>
<text transform="translate(730.25,208.9) rotate(-90) scale(1,1.13)" text-rendering="geometricPrecision" text-anchor="end" font-size="8.7" fill="#000" stroke="#000" stroke-width="0.12">1850</text>
<text transform="translate(742.90,208.9) rotate(-90) scale(1,1.13)" text-rendering="geometricPrecision" text-anchor="end" font-size="8.7" fill="#000" stroke="#000" stroke-width="0.12">1852</text>
<text transform="translate(755.56,208.9) rotate(-90) scale(1,1.13)" text-rendering="geometricPrecision" text-anchor="end" font-size="8.7" fill="#000" stroke="#000" stroke-width="0.12">1853</text>
<text transform="translate(768.21,208.9) rotate(-90) scale(1,1.13)" text-rendering="geometricPrecision" text-anchor="end" font-size="8.7" fill="#000" stroke="#000" stroke-width="0.12">1854</text>
<text transform="translate(780.86,208.9) rotate(-90) scale(1,1.13)" text-rendering="geometricPrecision" text-anchor="end" font-size="8.7" fill="#000" stroke="#000" stroke-width="0.12">1856</text>
<text transform="translate(793.52,208.9) rotate(-90) scale(1,1.13)" text-rendering="geometricPrecision" text-anchor="end" font-size="8.7" fill="#000" stroke="#000" stroke-width="0.12">1857</text>
<text transform="translate(806.17,208.9) rotate(-90) scale(1,1.13)" text-rendering="geometricPrecision" text-anchor="end" font-size="8.7" fill="#000" stroke="#000" stroke-width="0.12">1858</text>
<text transform="translate(818.83,208.9) rotate(-90) scale(1,1.13)" text-rendering="geometricPrecision" text-anchor="end" font-size="8.7" fill="#000" stroke="#000" stroke-width="0.12">1859</text>
<text transform="translate(831.48,208.9) rotate(-90) scale(1,1.13)" text-rendering="geometricPrecision" text-anchor="end" font-size="8.7" fill="#000" stroke="#000" stroke-width="0.12">1860</text>
<text transform="translate(844.13,208.9) rotate(-90) scale(1,1.13)" text-rendering="geometricPrecision" text-anchor="end" font-size="8.7" fill="#000" stroke="#000" stroke-width="0.12">1861</text>
<text transform="translate(856.79,208.9) rotate(-90) scale(1,1.13)" text-rendering="geometricPrecision" text-anchor="end" font-size="8.7" fill="#000" stroke="#000" stroke-width="0.12">1863</text>
<text transform="translate(869.44,208.9) rotate(-90) scale(1,1.13)" text-rendering="geometricPrecision" text-anchor="end" font-size="8.7" fill="#000" stroke="#000" stroke-width="0.12">1864</text>
<text transform="translate(882.10,208.9) rotate(-90) scale(1,1.13)" text-rendering="geometricPrecision" text-anchor="end" font-size="8.7" fill="#000" stroke="#000" stroke-width="0.12">1865</text>
<text transform="translate(894.75,208.9) rotate(-90) scale(1,1.13)" text-rendering="geometricPrecision" text-anchor="end" font-size="8.7" fill="#000" stroke="#000" stroke-width="0.12">1867</text>
<text transform="translate(907.40,208.9) rotate(-90) scale(1,1.13)" text-rendering="geometricPrecision" text-anchor="end" font-size="8.7" fill="#000" stroke="#000" stroke-width="0.12">1868</text>
<text transform="translate(920.06,208.9) rotate(-90) scale(1,1.13)" text-rendering="geometricPrecision" text-anchor="end" font-size="8.7" fill="#000" stroke="#000" stroke-width="0.12">1870</text>
<text transform="translate(932.71,208.9) rotate(-90) scale(1,1.13)" text-rendering="geometricPrecision" text-anchor="end" font-size="8.7" fill="#000" stroke="#000" stroke-width="0.12">1871</text>
<text transform="translate(945.37,208.9) rotate(-90) scale(1,1.13)" text-rendering="geometricPrecision" text-anchor="end" font-size="8.7" fill="#000" stroke="#000" stroke-width="0.12">1872</text>
<text transform="translate(958.02,208.9) rotate(-90) scale(1,1.13)" text-rendering="geometricPrecision" text-anchor="end" font-size="8.7" fill="#000" stroke="#000" stroke-width="0.12">1873</text>
<text transform="translate(970.67,208.9) rotate(-90) scale(1,1.13)" text-rendering="geometricPrecision" text-anchor="end" font-size="8.7" fill="#000" stroke="#000" stroke-width="0.12">1874</text>
<text transform="translate(983.33,208.9) rotate(-90) scale(1,1.13)" text-rendering="geometricPrecision" text-anchor="end" font-size="8.7" fill="#000" stroke="#000" stroke-width="0.12">1875</text>
<text transform="translate(995.98,208.9) rotate(-90) scale(1,1.13)" text-rendering="geometricPrecision" text-anchor="end" font-size="8.7" fill="#000" stroke="#000" stroke-width="0.12">1876</text>
<text transform="translate(1008.64,208.9) rotate(-90) scale(1,1.13)" text-rendering="geometricPrecision" text-anchor="end" font-size="8.7" fill="#000" stroke="#000" stroke-width="0.12">1878</text>
<text transform="translate(1021.29,208.9) rotate(-90) scale(1,1.13)" text-rendering="geometricPrecision" text-anchor="end" font-size="8.7" fill="#000" stroke="#000" stroke-width="0.12">1879</text>
<text transform="translate(1033.94,208.9) rotate(-90) scale(1,1.13)" text-rendering="geometricPrecision" text-anchor="end" font-size="8.7" fill="#000" stroke="#000" stroke-width="0.12">1880</text>
<text transform="translate(1046.60,208.9) rotate(-90) scale(1,1.13)" text-rendering="geometricPrecision" text-anchor="end" font-size="8.7" fill="#000" stroke="#000" stroke-width="0.12">1880</text>
<text transform="translate(1059.25,208.9) rotate(-90) scale(1,1.13)" text-rendering="geometricPrecision" text-anchor="end" font-size="8.7" fill="#000" stroke="#000" stroke-width="0.12">1882</text>
<text transform="translate(1071.91,208.9) rotate(-90) scale(1,1.13)" text-rendering="geometricPrecision" text-anchor="end" font-size="8.7" fill="#000" stroke="#000" stroke-width="0.12">1883</text>
<text transform="translate(1084.56,208.9) rotate(-90) scale(1,1.13)" text-rendering="geometricPrecision" text-anchor="end" font-size="8.7" fill="#000" stroke="#000" stroke-width="0.12">1884</text>
<text transform="translate(1097.21,208.9) rotate(-90) scale(1,1.13)" text-rendering="geometricPrecision" text-anchor="end" font-size="8.7" fill="#000" stroke="#000" stroke-width="0.12">1885</text>
<text transform="translate(1109.87,208.9) rotate(-90) scale(1,1.13)" text-rendering="geometricPrecision" text-anchor="end" font-size="8.7" fill="#000" stroke="#000" stroke-width="0.12">1886</text>
<text transform="translate(1122.52,208.9) rotate(-90) scale(1,1.13)" text-rendering="geometricPrecision" text-anchor="end" font-size="8.7" fill="#000" stroke="#000" stroke-width="0.12">1887</text>
<text transform="translate(1135.18,208.9) rotate(-90) scale(1,1.13)" text-rendering="geometricPrecision" text-anchor="end" font-size="8.7" fill="#000" stroke="#000" stroke-width="0.12">1888</text>
<text transform="translate(1147.83,208.9) rotate(-90) scale(1,1.13)" text-rendering="geometricPrecision" text-anchor="end" font-size="8.7" fill="#000" stroke="#000" stroke-width="0.12">1889</text>
<text transform="translate(1160.48,208.9) rotate(-90) scale(1,1.13)" text-rendering="geometricPrecision" text-anchor="end" font-size="8.7" fill="#000" stroke="#000" stroke-width="0.12">1890</text>
<text transform="translate(1173.14,208.9) rotate(-90) scale(1,1.13)" text-rendering="geometricPrecision" text-anchor="end" font-size="8.7" fill="#000" stroke="#000" stroke-width="0.12">1891</text>
<text transform="translate(1185.79,208.9) rotate(-90) scale(1,1.13)" text-rendering="geometricPrecision" text-anchor="end" font-size="8.7" fill="#000" stroke="#000" stroke-width="0.12">1892</text>
<text transform="translate(1198.45,208.9) rotate(-90) scale(1,1.13)" text-rendering="geometricPrecision" text-anchor="end" font-size="8.7" fill="#000" stroke="#000" stroke-width="0.12">1894</text>
<text transform="translate(1211.10,208.9) rotate(-90) scale(1,1.13)" text-rendering="geometricPrecision" text-anchor="end" font-size="8.7" fill="#000" stroke="#000" stroke-width="0.12">1895</text>
<text transform="translate(1223.75,208.9) rotate(-90) scale(1,1.13)" text-rendering="geometricPrecision" text-anchor="end" font-size="8.7" fill="#000" stroke="#000" stroke-width="0.12">1896</text>
<text transform="translate(1236.41,208.9) rotate(-90) scale(1,1.13)" text-rendering="geometricPrecision" text-anchor="end" font-size="8.7" fill="#000" stroke="#000" stroke-width="0.12">1897</text>
<rect x="233.5" y="316.5" width="1013" height="254" fill="#fff" stroke="#868686" stroke-width="1"/>
<text transform="translate(739.4,336.3) scale(0.866,1)" text-anchor="middle" font-size="14.4" font-weight="700" fill="#000">NH4 / WDC06A / 395 BC - 2003 AD (D)</text>
<rect x="259.0" y="351.9" width="1" height="206.94999999999993" fill="#868686"/>
<rect x="255.1" y="351.90" width="4.4" height="1" fill="#868686"/>
<text transform="translate(248.5,355.60) scale(0.97,1)" text-anchor="end" font-size="9.0" fill="#000" stroke="#000" stroke-width="0.2">20</text>
<rect x="255.1" y="393.09" width="4.4" height="1" fill="#868686"/>
<text transform="translate(248.5,396.79) scale(0.97,1)" text-anchor="end" font-size="9.0" fill="#000" stroke="#000" stroke-width="0.2">15</text>
<rect x="255.1" y="434.28" width="4.4" height="1" fill="#868686"/>
<text transform="translate(248.5,437.98) scale(0.97,1)" text-anchor="end" font-size="9.0" fill="#000" stroke="#000" stroke-width="0.2">10</text>
<rect x="255.1" y="475.47" width="4.4" height="1" fill="#868686"/>
<text transform="translate(248.5,479.17) scale(0.97,1)" text-anchor="end" font-size="9.0" fill="#000" stroke="#000" stroke-width="0.2">5</text>
<rect x="255.1" y="516.66" width="4.4" height="1" fill="#868686"/>
<text transform="translate(248.5,520.36) scale(0.97,1)" text-anchor="end" font-size="9.0" fill="#000" stroke="#000" stroke-width="0.2">0</text>
<rect x="255.1" y="557.85" width="4.4" height="1" fill="#868686"/>
<text transform="translate(248.5,561.55) scale(0.97,1)" text-anchor="end" font-size="9.0" fill="#000" stroke="#000" stroke-width="0.2">-5</text>
<path d="M259.75 516.90V516.7H260.00V515.9H261.25V516.0H261.50V516.90ZM265.00 516.90V516.2H265.25V515.4H265.50V515.5H265.75V515.6H266.00V515.7H266.25V515.8H266.50V516.7H266.75V516.90ZM274.00 516.90V516.4H274.25V515.0H274.50V513.6H274.75V512.3H275.00V510.9H275.25V509.8H275.50V509.7H275.75V509.5H276.00V509.3H276.25V509.1H276.75V509.5H277.00V509.8H277.25V510.2H277.50V510.6H277.75V510.9H278.00V511.3H278.25V511.7H278.50V512.0H278.75V512.4H279.00V512.8H279.25V513.1H279.50V513.5H279.75V514.0H280.00V514.5H280.25V515.0H280.50V515.5H280.75V516.0H281.00V516.5H281.25V516.90ZM282.75 516.90V515.7H283.00V514.2H283.25V512.8H283.50V511.5H283.75V510.6H284.00V509.6H284.25V508.7H284.50V507.7H284.75V507.2H285.00V508.1H285.25V509.1H285.50V510.0H285.75V511.0H286.00V511.9H286.25V512.2H286.50V512.6H286.75V513.0H287.00V513.4H287.25V513.7H287.50V513.8H287.75V513.9H288.00V514.0H288.25V514.1H288.50V514.2H288.75V514.3H289.00V515.5H289.25V516.90ZM294.50 516.90V516.7H294.75V515.2H295.00V513.8H295.25V512.4H295.50V512.0H295.75V511.6H296.00V511.2H296.25V510.7H296.50V510.3H296.75V509.9H297.00V510.4H297.25V510.9H297.50V511.4H297.75V511.9H298.00V512.4H298.25V512.9H298.50V513.4H298.75V513.9H299.00V514.4H299.25V514.9H299.50V515.6H299.75V516.4H300.00V516.90ZM319.75 516.90V516.7H320.00V516.5H320.25V516.2H320.50V516.0H321.00V516.3H321.25V516.6H321.50V516.90ZM323.00 516.90V515.5H323.25V514.0H323.50V512.9H323.75V512.4H324.00V512.0H324.25V511.5H324.50V511.7H324.75V513.2H325.00V514.7H325.25V515.6H325.50V516.3H325.75V516.90ZM332.75 516.90V516.1H333.00V515.2H333.25V514.3H333.75V514.5H334.00V514.8H334.25V515.0H334.50V515.3H334.75V515.5H335.00V516.5H335.25V516.90ZM339.75 516.90V516.6H340.00V515.9H340.25V515.2H340.50V514.4H340.75V514.0H341.00V513.5H341.25V513.1H341.50V513.0H341.75V513.5H342.00V514.0H342.25V514.6H342.50V515.2H342.75V515.9H343.00V516.7H343.25V516.90ZM347.75 516.90V516.3H348.00V515.7H348.25V515.0H348.50V514.4H348.75V514.1H349.00V513.8H349.25V513.5H349.50V513.2H349.75V512.9H350.00V513.2H350.25V513.7H350.50V514.2H350.75V514.7H351.00V515.2H351.25V515.7H351.50V516.1H351.75V516.5H352.00V516.90ZM357.00 516.90V515.8H357.25V514.5H357.50V513.3H357.75V512.2H358.00V511.6H358.25V511.0H358.50V510.4H358.75V509.7H359.00V509.1H359.25V508.5H359.50V508.1H359.75V507.7H360.00V507.3H360.25V506.8H360.50V506.4H360.75V506.0H361.25V506.3H361.50V506.6H361.75V506.9H362.00V507.2H362.25V507.5H362.50V507.8H362.75V508.0H363.00V508.2H363.25V508.4H363.50V508.6H363.75V508.8H364.00V509.0H364.25V509.9H364.50V510.8H364.75V511.7H365.00V512.7H365.25V513.6H365.50V514.6H365.75V515.7H366.00V516.7H366.25V516.90ZM368.50 516.90V516.6H368.75V515.4H369.00V514.1H369.25V512.9H369.50V511.7H369.75V510.9H370.00V510.0H370.25V509.2H370.50V508.4H370.75V503.7H371.00V496.3H372.75V497.5H373.00V500.1H373.25V502.7H373.50V505.2H373.75V507.7H374.00V510.2H374.25V511.9H374.50V512.2H374.75V512.5H375.00V512.8H375.25V512.3H375.50V509.5H375.75V507.2H376.00V506.6H376.25V506.1H376.50V505.5H376.75V504.9H377.00V504.4H377.25V504.5H377.50V504.9H377.75V505.3H378.00V505.7H378.25V506.1H378.50V506.5H378.75V507.3H379.00V508.3H379.25V509.3H379.50V510.3H379.75V511.3H380.00V512.2H380.25V513.1H380.50V514.0H380.75V514.9H381.00V516.2H381.25V516.90ZM386.75 516.90V516.5H387.00V515.9H387.25V515.3H387.50V514.6H387.75V514.0H388.00V513.6H388.25V513.5H388.50V513.3H388.75V513.2H389.00V513.0H389.25V512.9H389.75V513.0H390.00V513.2H390.25V513.3H390.50V513.5H390.75V513.6H391.00V513.8H391.25V514.1H391.50V514.5H391.75V514.8H392.00V515.1H392.25V515.5H392.50V515.8H392.75V516.2H393.00V516.6H393.25V516.90ZM398.75 516.90V516.2H399.00V514.5H399.25V512.7H399.50V512.0H399.75V511.5H400.00V511.0H400.25V510.5H400.50V510.0H400.75V510.2H401.00V510.6H401.25V510.9H401.50V511.3H401.75V511.7H402.00V515.2H402.25V516.90ZM406.75 516.90V514.9H407.00V512.6H407.25V510.9H407.50V510.3H407.75V509.7H408.00V509.1H408.25V508.4H408.50V508.2H408.75V509.0H409.00V509.8H409.25V510.6H409.50V511.4H409.75V512.3H410.00V513.2H410.25V514.0H410.50V515.0H410.75V516.0H411.00V516.90ZM417.25 516.90V516.1H417.50V514.0H417.75V511.8H418.00V509.7H418.25V507.9H418.50V506.3H418.75V504.7H419.00V503.1H419.25V501.4H419.50V500.7H419.75V500.4H420.00V500.0H420.25V499.6H420.50V499.2H420.75V499.5H421.00V500.1H421.25V500.8H421.50V501.4H421.75V502.0H422.00V502.6H422.25V503.0H422.50V503.5H422.75V504.0H423.00V504.5H423.25V505.0H423.50V505.4H423.75V507.2H424.00V509.0H424.25V510.8H424.50V512.1H424.75V512.7H425.00V513.3H425.25V513.9H425.50V514.6H425.75V515.4H426.00V516.7H426.25V516.90ZM429.00 516.90V515.7H429.25V514.0H429.50V512.3H429.75V510.6H430.00V509.5H430.25V508.9H430.50V508.3H430.75V507.6H431.00V507.0H431.25V506.9H431.50V507.1H431.75V507.4H432.00V507.6H432.25V507.9H432.50V508.1H432.75V511.9H433.00V516.90ZM437.75 516.90V516.5H438.00V513.8H438.25V511.0H438.50V509.1H438.75V507.7H439.00V506.4H439.25V505.1H439.50V505.3H439.75V505.4H440.00V505.6H440.25V505.8H440.50V506.0H440.75V510.9H441.00V516.90ZM446.75 516.90V515.7H447.00V513.7H447.25V511.8H447.50V512.1H447.75V512.3H448.00V512.6H448.25V512.8H448.50V513.1H448.75V515.5H449.00V516.90ZM457.00 516.90V515.8H457.25V514.7H457.50V514.1H459.50V514.3H459.75V514.6H460.00V514.9H460.25V515.2H460.50V515.5H460.75V516.6H461.00V516.90ZM474.75 516.90V515.6H475.00V514.2H475.25V512.8H475.50V511.4H475.75V507.7H476.00V503.7H476.25V501.0H477.75V501.7H478.00V504.7H478.25V507.7H478.50V510.4H478.75V512.9H479.00V515.1H479.25V515.6H479.50V516.1H479.75V516.7H480.00V516.90ZM487.75 516.90V515.1H488.00V512.4H488.25V509.9H488.50V509.5H488.75V509.1H489.00V508.7H489.25V508.4H489.50V508.0H489.75V508.4H490.00V508.8H490.25V509.1H490.50V509.5H490.75V509.9H491.00V511.3H491.25V512.8H491.50V514.3H491.75V515.9H492.00V516.90ZM501.00 516.90V516.5H501.25V515.4H501.50V514.4H501.75V513.3H502.00V512.9H502.25V512.6H502.50V512.4H502.75V512.1H503.00V511.9H503.25V511.6H503.50V511.4H503.75V511.1H504.00V511.0H504.25V510.8H504.50V510.6H504.75V510.5H505.00V510.3H505.25V510.1H505.50V510.0H506.00V510.1H506.25V510.2H506.50V510.3H506.75V510.5H507.00V511.7H507.25V514.2H507.50V515.5H507.75V516.8H508.00V516.90ZM515.00 516.90V516.7H515.25V516.3H515.50V515.9H515.75V516.2H516.00V516.6H516.25V516.90ZM521.00 516.90V516.3H521.25V515.4H521.50V514.5H521.75V513.6H522.00V512.7H522.25V511.8H522.50V510.9H522.75V511.0H523.25V511.1H523.75V511.6H524.00V512.5H524.25V513.5H524.50V514.4H524.75V515.1H525.00V515.5H525.25V515.8H525.50V516.2H525.75V516.6H526.00V516.90ZM547.00 516.90V516.2H547.25V515.1H547.50V514.1H547.75V513.0H548.00V512.2H548.25V511.8H548.50V511.4H548.75V511.0H549.00V510.6H549.25V510.1H549.75V510.6H550.00V511.1H550.25V511.6H550.50V512.1H550.75V512.6H551.00V513.1H551.25V513.6H551.50V514.1H551.75V514.6H552.00V515.1H552.25V515.6H552.50V516.0H552.75V516.5H553.00V516.90ZM563.50 516.90V516.7H563.75V516.5H564.00V516.2H564.25V516.0H564.50V515.7H564.75V515.5H565.00V515.2H565.25V515.0H565.50V514.7H565.75V514.5H566.00V514.2H566.25V514.0H566.50V513.7H566.75V513.5H567.00V513.2H567.25V512.9H567.50V512.5H567.75V512.0H568.00V511.6H568.25V511.2H568.50V510.7H568.75V510.3H569.00V509.8H569.25V509.4H569.50V509.0H569.75V508.6H570.00V508.2H570.25V507.8H570.50V507.4H570.75V507.1H571.00V506.7H571.25V506.3H571.50V505.9H571.75V505.6H572.00V505.2H572.25V504.8H572.50V504.4H572.75V504.0H573.00V503.6H573.25V503.3H573.50V502.9H573.75V502.5H574.00V502.1H574.25V501.9H574.50V501.8H574.75V501.7H575.00V502.6H575.25V503.2H575.50V503.8H575.75V504.5H576.00V505.4H576.25V506.6H576.50V507.9H576.75V509.1H577.00V509.8H577.25V510.3H577.50V510.9H577.75V511.4H578.00V512.0H578.50V511.9H579.00V511.8H579.25V511.7H579.75V511.6H580.25V511.7H580.50V511.8H580.75V511.9H581.00V512.0H581.25V512.2H581.50V512.3H581.75V512.4H582.00V512.6H582.25V513.0H582.50V513.3H582.75V513.6H583.00V513.9H583.25V514.3H583.50V514.6H583.75V515.0H584.00V515.5H584.25V515.9H584.50V516.4H584.75V516.8H585.00V516.90ZM590.00 516.90V512.4H590.25V508.0H590.50V505.8H590.75V503.6H591.00V501.4H591.25V500.1H591.50V499.4H591.75V498.8H592.00V498.2H592.25V497.6H592.50V497.4H592.75V497.8H593.00V498.1H593.25V498.5H593.50V498.9H593.75V499.7H594.00V501.3H594.25V502.9H594.50V504.5H594.75V505.8H595.00V507.1H595.25V508.3H595.50V509.6H595.75V510.8H596.00V512.1H596.25V513.3H596.50V514.7H596.75V516.3H597.00V516.90ZM602.00 516.90V516.5H602.25V516.2H602.50V515.8H602.75V515.4H603.00V515.0H603.25V514.6H603.50V514.3H603.75V514.0H604.00V513.8H604.25V513.6H604.50V513.4H604.75V513.1H605.00V512.9H605.50V513.0H605.75V513.1H606.25V513.2H606.50V513.3H606.75V513.4H607.00V513.7H607.25V514.0H607.50V514.4H607.75V514.8H608.00V516.0H608.25V516.90ZM612.75 516.90V516.6H613.00V515.5H613.25V514.4H613.50V513.9H613.75V513.6H614.00V513.3H614.25V513.1H614.50V512.9H614.75V513.8H615.00V514.8H615.25V515.6H615.50V516.0H615.75V516.4H616.00V516.7H616.25V516.90ZM620.00 516.90V515.9H620.25V512.6H620.50V511.4H620.75V510.8H621.00V510.3H621.25V509.7H621.50V509.2H622.00V509.5H622.25V509.8H622.50V510.1H622.75V510.4H623.00V511.3H623.25V512.6H623.50V513.9H623.75V516.0H624.00V516.90ZM629.75 516.90V516.6H630.00V515.6H630.25V514.5H630.50V513.4H630.75V512.3H631.00V511.7H631.25V511.1H631.50V510.4H632.00V510.7H632.25V511.0H632.50V511.4H632.75V511.7H633.00V512.1H633.25V513.0H633.50V513.9H633.75V515.5H634.00V516.90ZM659.75 516.90V516.4H660.00V515.4H660.25V514.3H660.50V513.2H660.75V511.8H661.00V510.4H661.25V509.0H661.50V508.1H661.75V508.3H662.00V508.6H662.25V508.8H662.50V509.1H662.75V510.0H663.00V513.4H663.25V515.0H663.50V516.0H663.75V516.90ZM665.75 516.90V512.9H666.00V506.0H666.25V503.4H666.50V500.8H666.75V498.1H667.00V495.5H667.25V492.9H667.50V491.9H667.75V491.0H668.00V490.0H668.25V489.1H668.50V488.2H668.75V488.3H669.00V488.6H669.25V488.9H669.50V489.2H669.75V489.5H670.00V494.9H670.25V501.4H670.50V504.9H670.75V507.4H671.00V509.9H671.25V512.4H671.50V514.1H671.75V515.6H672.00V516.90ZM706.25 516.90V516.8H706.50V516.5H706.75V516.2H707.00V515.9H707.25V515.6H707.50V515.0H707.75V514.5H708.00V514.0H708.25V513.9H708.50V514.4H708.75V514.9H709.00V515.3H709.25V515.9H709.50V516.5H709.75V516.90ZM717.75 516.90V515.6H718.00V512.7H718.25V512.2H718.50V511.9H718.75V511.6H719.00V511.3H719.25V511.0H719.50V511.4H719.75V511.9H720.00V512.5H720.25V513.0H720.50V513.6H720.75V514.0H721.00V514.4H721.25V514.7H721.50V515.1H721.75V515.5H722.00V516.5H722.25V516.90ZM726.75 516.90V516.3H727.00V515.7H727.25V515.3H727.50V515.1H727.75V514.8H728.00V514.6H728.25V514.4H728.50V514.2H728.75V514.0H729.00V513.8H729.50V514.0H729.75V514.2H730.00V514.7H730.25V516.3H730.50V516.90ZM746.25 516.90V515.8H746.50V514.6H746.75V513.3H747.00V512.3H747.25V511.6H747.50V510.9H747.75V510.2H748.00V509.6H748.25V508.9H748.50V508.2H748.75V507.9H749.00V507.7H749.25V507.5H749.50V507.4H749.75V507.2H750.00V507.0H750.25V507.6H750.50V508.6H750.75V509.6H751.00V510.7H751.25V511.8H751.50V513.1H751.75V514.3H752.00V515.6H752.25V516.1H752.50V516.6H752.75V516.90ZM756.75 516.90V516.6H757.00V515.4H757.25V515.0H757.50V515.1H758.00V515.2H758.50V515.3H758.75V515.5H759.00V516.90ZM767.75 516.90V515.4H768.00V512.6H768.25V511.2H769.50V511.4H769.75V512.1H770.00V512.7H770.25V513.3H770.50V514.2H770.75V515.4H771.00V516.7H771.25V516.90ZM786.00 516.90V375.0H787.00V453.0H787.75V482.6H789.00V503.2H789.25V503.7H789.50V504.1H789.75V504.5H790.00V504.9H790.25V505.3H790.50V505.7H790.75V506.2H791.00V506.6H791.25V507.1H791.50V507.6H791.75V508.3H792.00V511.4H792.25V514.4H792.50V515.2H792.75V516.1H793.00V516.90ZM797.00 516.90V516.0H797.25V515.0H797.50V513.9H797.75V512.8H798.00V511.7H798.25V510.5H798.50V510.2H798.75V510.3H799.25V510.4H799.75V510.5H800.00V512.3H800.25V515.0H800.50V515.8H800.75V516.5H801.00V516.90ZM812.75 516.90V515.3H813.00V513.4H813.25V511.6H813.50V509.6H813.75V507.6H814.00V505.7H814.25V504.2H814.50V504.5H814.75V504.7H815.00V505.0H815.25V505.2H815.50V505.7H815.75V507.2H816.00V508.7H816.25V509.8H816.50V510.7H816.75V511.6H817.00V512.4H817.25V513.3H817.50V514.0H817.75V514.5H818.00V515.1H818.25V515.6H818.50V516.1H818.75V516.6H819.00V516.90ZM822.50 516.90V516.8H822.75V516.6H823.00V516.4H823.25V516.2H823.50V516.0H823.75V515.9H824.25V516.0H824.75V516.1H825.25V516.2H825.75V516.5H826.00V516.90ZM829.00 516.90V516.7H829.25V516.4H829.50V516.2H829.75V515.9H830.00V516.1H830.25V516.4H830.50V516.7H830.75V516.90ZM834.00 516.90V516.4H834.25V515.7H834.50V514.9H834.75V514.1H835.00V513.7H835.25V513.5H835.50V513.4H835.75V513.3H836.00V513.2H836.25V513.1H836.50V513.5H836.75V514.5H837.00V515.5H837.25V516.0H837.50V516.5H837.75V516.90ZM841.75 516.90V516.7H842.00V515.3H842.25V513.8H842.50V512.4H842.75V511.0H843.00V509.7H843.25V508.9H843.50V508.7H843.75V508.5H844.00V508.2H844.25V508.0H844.50V509.4H844.75V510.8H845.00V512.3H845.25V513.6H845.50V514.8H845.75V516.1H846.00V516.90ZM860.75 516.90V515.8H861.00V514.7H861.25V514.1H862.50V514.3H862.75V514.8H863.00V515.3H863.25V515.8H863.50V516.1H863.75V516.5H864.00V516.8H864.25V516.90ZM868.75 516.90V513.7H869.00V510.4H869.25V507.7H869.50V505.5H869.75V503.4H870.00V501.2H870.25V501.0H871.75V501.1H872.00V501.3H872.25V501.6H872.50V501.8H872.75V502.1H873.00V502.8H873.25V505.3H873.50V507.8H873.75V510.1H874.00V512.4H874.25V514.5H874.50V515.5H874.75V516.5H875.00V516.90ZM878.75 516.90V516.2H879.00V515.4H879.25V514.6H879.50V513.8H879.75V512.8H880.00V511.7H880.25V510.5H880.50V509.4H880.75V508.3H881.00V507.4H881.25V506.7H881.50V505.9H881.75V505.2H882.00V504.4H882.25V504.7H882.50V505.5H882.75V506.3H883.00V507.1H883.25V508.1H883.50V509.4H883.75V510.6H884.00V511.9H884.25V512.8H884.50V513.7H884.75V514.7H885.00V515.6H885.25V516.1H885.50V516.6H885.75V516.90ZM888.00 516.90V516.3H888.25V515.5H888.50V515.0H890.50V515.1H890.75V515.4H891.00V515.6H891.25V515.9H891.50V516.1H891.75V516.4H892.00V516.6H892.25V516.90ZM924.75 516.90V516.8H925.00V516.5H925.25V516.2H925.50V515.9H925.75V515.6H926.00V515.3H926.75V515.2H927.25V515.1H927.75V515.0H928.25V515.3H928.50V515.9H928.75V516.5H929.00V516.90ZM935.00 516.90V515.8H935.25V514.1H935.50V512.4H935.75V511.8H936.00V511.1H936.25V510.5H936.50V509.9H936.75V510.6H937.00V511.3H937.25V512.0H937.50V513.2H937.75V515.0H938.00V516.7H938.25V516.90ZM941.00 516.90V515.9H941.25V514.7H941.50V513.4H941.75V512.2H942.00V510.3H942.25V508.1H942.50V505.9H942.75V503.7H943.00V502.1H943.25V500.7H943.50V499.3H943.75V497.9H944.00V496.6H944.25V496.5H944.50V497.6H944.75V498.7H945.00V499.7H945.25V501.5H945.50V503.2H945.75V504.9H946.00V506.6H946.25V508.1H946.50V509.5H946.75V510.9H947.00V512.3H947.25V513.5H947.50V514.8H947.75V516.0H948.00V516.90ZM950.75 516.90V515.9H951.00V509.7H951.25V507.2H951.50V507.0H951.75V506.7H952.00V506.5H952.25V506.2H952.50V506.9H952.75V508.3H953.00V509.7H953.25V511.2H953.50V512.1H953.75V513.0H954.00V514.0H954.25V514.9H954.50V515.9H954.75V516.8H955.00V516.90ZM957.00 516.90V514.2H957.25V510.7H957.50V507.7H957.75V504.8H958.00V501.9H958.25V501.1H958.50V501.2H958.75V501.4H959.00V501.5H959.25V501.6H959.50V503.4H959.75V506.1H960.00V508.8H960.25V510.6H960.50V512.4H960.75V514.2H961.00V515.4H961.25V516.1H961.50V516.90ZM965.75 516.90V516.0H966.00V512.6H966.25V509.7H966.50V509.0H966.75V508.3H967.00V507.6H967.25V507.1H967.50V507.6H967.75V508.2H968.00V508.8H968.25V509.6H968.50V512.6H968.75V515.6H969.00V516.90ZM971.75 516.90V516.4H972.00V515.3H972.25V514.2H972.50V514.3H972.75V514.6H973.00V514.8H973.25V515.1H973.50V515.3H973.75V516.1H974.00V516.90ZM977.75 516.90V516.5H978.00V515.9H978.25V515.3H978.50V515.0H978.75V515.1H979.00V515.2H979.50V515.3H979.75V516.0H980.00V516.90ZM997.00 516.90V515.5H997.25V514.0H997.50V512.3H997.75V510.2H998.00V508.0H998.25V505.9H998.50V505.2H998.75V504.9H999.00V504.6H999.25V504.3H999.50V504.0H999.75V504.2H1000.00V504.7H1000.25V505.1H1000.50V505.5H1000.75V505.9H1001.00V507.1H1001.25V508.7H1001.50V510.3H1001.75V511.9H1002.00V512.7H1002.25V513.4H1002.50V514.2H1002.75V515.0H1003.00V516.3H1003.25V516.90ZM1020.75 516.90V515.7H1021.00V514.4H1021.25V513.1H1021.50V511.7H1021.75V510.3H1022.00V508.9H1022.25V507.9H1022.50V507.7H1022.75V507.5H1023.00V507.3H1023.25V507.1H1023.75V507.4H1024.00V507.8H1024.25V508.2H1024.50V508.5H1024.75V509.4H1025.00V510.5H1025.25V511.6H1025.50V512.7H1025.75V513.5H1026.00V514.2H1026.25V514.9H1026.50V515.6H1026.75V516.2H1027.00V516.7H1027.25V516.90ZM1037.00 516.90V504.2H1038.00V506.1H1038.25V510.7H1038.50V511.4H1038.75V511.6H1039.00V515.4H1039.25V516.90ZM1055.00 516.90V516.6H1055.25V516.1H1055.50V515.6H1055.75V515.1H1056.00V514.6H1056.25V513.8H1056.50V512.6H1056.75V511.3H1057.00V510.1H1057.25V509.0H1057.50V508.1H1057.75V507.3H1058.00V506.5H1058.25V505.7H1058.50V505.2H1058.75V505.8H1059.00V506.4H1059.25V507.0H1059.50V507.5H1059.75V508.2H1060.00V509.3H1060.25V510.4H1060.50V511.4H1060.75V514.0H1061.00V516.90ZM1072.00 516.90V496.5H1072.25V496.4H1072.50V496.2H1072.75V496.1H1073.00V427.4H1073.75V437.6H1074.75V466.2H1075.75V486.7H1076.50V504.3H1076.75V504.4H1077.00V504.5H1077.25V504.6H1077.50V504.7H1077.75V504.8H1078.00V507.3H1078.25V511.4H1078.50V513.5H1078.75V514.2H1079.00V514.9H1079.25V515.6H1079.50V516.0H1079.75V516.5H1080.00V516.9H1080.75V493.1H1081.00V490.4H1082.00V477.4H1083.00V483.9H1084.00V505.2H1084.75V510.0H1085.00V516.90ZM1093.75 516.90V516.1H1094.00V515.0H1094.25V514.1H1094.50V514.4H1094.75V514.7H1095.00V515.0H1095.25V515.3H1095.50V515.7H1095.75V516.90ZM1100.75 516.90V515.6H1101.00V513.8H1101.25V512.3H1101.50V511.4H1101.75V510.6H1102.00V509.7H1102.25V509.2H1102.50V510.1H1102.75V511.1H1103.00V512.1H1103.25V512.9H1103.50V513.8H1103.75V514.6H1104.00V515.5H1104.25V516.4H1104.50V516.90ZM1109.00 516.90V513.7H1109.25V510.3H1109.50V509.3H1109.75V508.4H1110.00V507.4H1110.25V506.4H1110.50V506.5H1110.75V507.1H1111.00V507.8H1111.25V508.4H1111.50V509.2H1111.75V510.1H1112.00V511.0H1112.25V511.9H1112.50V513.6H1112.75V515.2H1113.00V516.90ZM1118.75 516.90V516.4H1119.00V513.7H1119.25V510.9H1119.50V509.6H1119.75V509.2H1120.00V508.8H1120.25V508.4H1120.50V508.0H1120.75V508.7H1121.00V509.3H1121.25V509.9H1121.50V510.5H1121.75V511.2H1122.00V511.8H1122.25V512.4H1122.50V513.0H1122.75V513.7H1123.00V514.3H1123.25V515.1H1123.50V515.9H1123.75V516.8H1124.00V516.90ZM1131.75 516.90V516.4H1132.00V515.1H1132.25V513.9H1132.50V512.6H1132.75V511.5H1133.00V510.4H1133.25V509.3H1133.50V508.2H1133.75V507.5H1134.00V506.9H1134.25V506.3H1134.50V506.1H1134.75V507.2H1135.00V508.3H1135.25V509.5H1135.50V510.7H1135.75V512.0H1136.00V513.2H1136.25V514.5H1136.50V515.7H1136.75V516.90ZM1142.75 516.90V516.8H1143.00V516.6H1143.25V516.3H1143.50V516.1H1143.75V515.9H1145.50V516.2H1145.75V516.6H1146.00V516.90ZM1162.00 516.90V515.9H1162.25V514.1H1162.50V512.4H1162.75V511.4H1163.00V510.5H1163.25V509.5H1163.50V509.0H1163.75V509.1H1164.25V509.2H1164.75V509.7H1165.00V510.8H1165.25V511.9H1165.50V512.9H1165.75V515.2H1166.00V516.90ZM1171.75 516.90V516.5H1172.00V515.8H1172.25V515.0H1172.50V515.3H1172.75V515.7H1173.00V516.0H1173.25V516.3H1173.50V516.5H1173.75V516.7H1174.00V516.90ZM1174.75 516.90V516.0H1175.00V514.9H1175.25V513.9H1175.50V512.9H1175.75V512.5H1176.00V512.0H1176.25V511.5H1176.50V511.4H1176.75V512.5H1177.00V513.5H1177.25V514.6H1177.50V515.5H1177.75V516.2H1178.00V516.90ZM1190.75 516.90V516.7H1191.00V516.2H1191.25V515.8H1191.50V515.3H1191.75V514.9H1192.00V514.7H1192.25V514.4H1192.50V514.2H1192.75V513.9H1193.00V513.8H1193.25V514.2H1193.50V514.5H1193.75V514.9H1194.00V515.3H1194.25V515.7H1194.50V516.3H1194.75V516.90ZM1203.75 516.90V516.6H1204.00V516.1H1204.25V515.7H1204.50V515.2H1204.75V514.9H1205.00V514.6H1205.25V514.4H1205.50V514.2H1205.75V514.3H1206.00V514.8H1206.25V515.3H1206.50V515.8H1206.75V516.5H1207.00V516.90ZM1210.00 516.90V516.7H1210.25V515.6H1210.50V514.5H1210.75V513.4H1211.00V512.3H1211.25V511.3H1211.50V510.3H1211.75V509.3H1212.00V508.3H1212.25V507.4H1213.75V509.1H1214.00V510.8H1214.25V512.0H1214.50V512.4H1214.75V512.8H1215.00V516.90ZM1218.00 516.90V514.9H1218.25V512.8H1218.50V510.6H1218.75V508.9H1219.00V508.1H1219.25V507.2H1219.50V506.3H1219.75V505.4H1220.00V504.5H1220.25V503.4H1220.50V502.2H1220.75V501.1H1221.00V500.0H1221.25V498.9H1221.50V497.9H1221.75V496.9H1222.00V495.9H1222.25V494.9H1222.50V494.0H1222.75V493.9H1223.00V493.8H1223.25V493.6H1223.50V493.5H1224.00V495.5H1224.25V497.5H1224.50V499.5H1224.75V501.3H1225.00V503.2H1225.25V505.1H1225.50V507.0H1225.75V509.0H1226.00V510.9H1226.25V512.9H1226.50V514.4H1226.75V515.9H1227.00V516.90ZM262.00 520.20V520.5H262.50V520.6H262.75V520.7H263.25V520.8H263.50V520.9H264.00V520.8H264.25V520.7H264.50V520.6H264.75V520.5H265.00V520.4H265.25V520.20ZM267.75 520.20V520.8H268.00V521.4H268.25V521.9H268.50V522.4H268.75V523.0H269.00V523.5H269.25V524.0H269.50V524.5H269.75V524.8H270.00V525.0H270.25V525.3H270.50V525.5H270.75V525.8H271.50V525.9H272.25V526.0H272.75V525.9H273.00V525.8H273.25V525.6H273.50V525.4H273.75V525.2H274.00V524.5H274.25V522.6H274.50V520.8H274.75V520.20ZM280.50 520.20V520.5H280.75V520.6H281.00V520.7H281.25V520.8H281.50V520.9H281.75V520.8H282.00V520.6H282.25V520.20ZM290.50 520.20V520.5H290.75V520.7H291.00V520.9H291.25V521.1H291.50V521.3H291.75V521.5H292.00V521.7H292.25V521.9H292.75V521.7H293.00V521.6H293.25V521.5H293.50V521.3H293.75V521.2H294.00V521.1H294.25V520.9H294.50V520.7H294.75V520.5H295.00V520.20ZM300.75 520.20V521.1H301.00V522.1H301.25V523.0H301.50V523.9H301.75V524.8H302.00V525.3H302.25V525.7H302.50V526.0H302.75V526.3H303.00V526.6H303.25V526.4H303.50V525.9H303.75V525.3H304.00V524.7H304.25V524.1H304.50V523.4H304.75V522.6H305.00V521.7H305.25V520.9H305.50V520.20ZM309.50 520.20V520.5H309.75V521.0H310.00V521.4H310.25V521.8H310.50V522.2H310.75V522.5H311.00V522.2H311.25V521.8H311.50V521.4H311.75V521.0H312.00V520.7H312.75V520.8H313.75V520.9H314.75V521.0H315.75V521.1H316.75V521.2H317.75V521.3H318.50V521.2H318.75V521.0H319.00V520.8H319.25V520.7H319.50V520.5H319.75V520.20ZM321.50 520.20V520.4H321.75V521.4H322.00V522.4H322.25V522.6H322.50V521.7H322.75V520.9H323.00V520.20ZM325.50 520.20V521.0H325.75V521.6H326.00V522.3H326.25V523.0H326.50V523.7H326.75V524.2H327.00V524.6H327.25V525.0H327.50V525.4H327.75V525.9H328.25V525.8H328.50V525.7H328.75V525.6H329.00V525.5H329.25V525.4H329.50V525.2H329.75V525.1H330.00V524.6H330.25V524.1H330.50V523.6H330.75V523.1H331.00V522.6H331.25V522.2H331.50V521.8H331.75V521.3H332.00V520.9H332.25V520.5H332.50V520.20ZM335.25 520.20V520.7H335.50V521.1H335.75V521.6H336.00V522.0H336.25V522.4H336.50V522.8H336.75V523.3H337.00V523.6H337.25V524.0H337.50V524.4H337.75V524.8H338.00V525.1H338.25V524.9H338.50V524.6H338.75V524.4H339.00V524.1H339.25V523.9H339.50V521.8H339.75V520.20ZM343.25 520.20V520.8H343.50V521.4H343.75V521.9H344.00V522.5H344.25V523.0H344.50V523.4H344.75V523.6H345.00V523.9H345.25V524.1H345.50V524.4H345.75V524.2H346.00V523.7H346.25V523.2H346.50V522.7H346.75V522.2H347.00V521.5H347.25V520.5H347.50V520.20ZM352.00 520.20V520.6H352.25V521.5H352.50V522.4H352.75V523.4H353.00V524.3H353.25V525.2H353.50V525.5H353.75V525.9H354.00V526.3H354.25V526.7H354.50V527.0H354.75V526.8H355.00V526.5H355.25V526.3H355.50V526.0H355.75V525.8H356.00V524.5H356.25V523.2H356.50V521.9H356.75V520.6H357.00V520.20ZM366.00 520.20V520.5H366.25V520.6H366.50V520.7H366.75V520.8H367.00V520.9H367.50V520.8H367.75V520.7H368.00V520.6H368.25V520.5H368.50V520.20ZM382.50 520.20V520.6H382.75V521.2H383.00V521.7H383.25V522.3H383.50V522.8H383.75V523.3H384.00V523.4H384.25V523.5H384.50V523.7H384.75V523.8H385.00V523.9H385.25V524.1H385.50V524.2H385.75V524.0H386.00V523.7H386.25V523.4H386.50V523.0H386.75V522.7H387.00V521.4H387.25V520.20ZM393.50 520.20V520.5H393.75V521.2H394.00V521.8H394.25V522.4H394.50V522.9H394.75V522.7H395.00V522.5H395.25V522.3H395.50V522.1H395.75V521.9H396.00V521.3H396.25V520.7H396.50V520.20ZM402.50 520.20V520.5H402.75V521.1H403.00V521.6H403.25V522.2H403.50V522.8H403.75V523.3H404.00V523.8H404.25V523.7H404.50V523.5H404.75V523.3H405.00V523.1H405.25V523.0H405.50V522.3H405.75V521.6H406.00V520.8H406.25V520.20ZM412.25 520.20V520.4H412.50V520.6H412.75V520.8H413.00V521.0H413.25V521.2H413.50V521.4H413.75V521.6H414.00V521.8H414.25V522.0H415.00V521.9H415.50V521.8H416.00V521.7H416.25V521.5H416.50V521.0H416.75V520.5H417.00V520.20ZM426.50 520.20V520.5H426.75V520.7H427.00V520.8H427.25V520.9H427.50V520.8H427.75V520.7H428.00V520.5H428.25V520.20ZM433.50 520.20V521.0H433.75V521.7H434.00V522.4H434.25V523.1H434.50V523.7H434.75V524.1H435.00V524.3H435.25V524.6H435.50V524.8H435.75V525.1H436.00V524.9H436.25V524.7H436.50V524.4H436.75V524.2H437.00V523.9H437.25V523.2H437.50V522.2H437.75V521.3H438.00V520.20ZM441.50 520.20V521.2H441.75V522.0H442.00V522.8H442.25V523.6H442.50V524.4H442.75V525.1H443.00V525.8H443.25V526.6H443.50V527.3H443.75V528.0H444.00V528.8H444.25V528.5H444.50V527.8H444.75V527.2H445.00V526.6H445.25V526.0H445.50V524.9H445.75V523.6H446.00V522.3H446.25V520.9H446.50V520.20ZM449.50 520.20V520.7H449.75V521.4H450.00V522.2H450.25V522.9H450.50V523.6H450.75V524.3H451.00V525.0H451.25V525.6H451.50V526.2H451.75V526.8H452.00V527.4H452.25V527.9H452.50V528.5H452.75V529.1H453.00V529.5H453.25V529.0H453.50V528.5H453.75V528.0H454.00V527.5H454.25V526.9H454.50V525.9H454.75V524.9H455.00V523.9H455.25V522.9H455.50V521.9H455.75V521.3H456.00V520.7H456.25V520.20ZM461.75 520.20V520.9H462.00V521.6H462.25V522.3H462.50V522.9H462.75V523.6H463.00V524.1H463.25V524.4H463.50V524.8H463.75V525.1H464.00V524.7H464.25V524.4H464.50V524.0H464.75V523.6H465.00V523.2H465.25V523.1H465.50V522.9H465.75V522.7H466.00V522.6H466.25V522.4H466.50V522.2H466.75V522.1H467.00V521.9H467.25V521.8H467.50V521.6H467.75V521.5H468.00V521.4H468.25V521.2H468.50V521.1H468.75V521.0H469.00V520.8H469.25V520.6H469.50V520.20ZM470.25 520.20V520.9H470.50V521.6H470.75V522.2H471.00V522.9H471.25V523.6H471.50V524.1H471.75V524.5H472.00V524.8H472.25V525.2H472.50V525.6H473.00V525.4H473.25V525.1H473.50V524.9H473.75V524.6H474.00V524.4H474.25V524.1H474.50V523.9H474.75V520.7H475.00V520.20ZM480.00 520.20V520.9H480.25V521.7H480.50V522.5H480.75V523.3H481.00V524.1H481.25V525.0H481.50V525.8H481.75V526.3H482.00V526.9H482.25V527.5H482.50V528.1H482.75V528.7H483.00V529.3H483.25V529.8H483.50V530.1H483.75V529.7H484.00V529.3H484.25V528.9H484.50V528.6H484.75V528.0H485.00V527.2H485.25V526.3H485.50V525.4H485.75V524.5H486.00V523.5H486.25V522.2H486.50V520.8H486.75V520.20ZM492.50 520.20V520.8H492.75V521.3H493.00V521.7H493.25V522.2H493.50V522.6H493.75V523.1H494.00V523.5H494.25V524.0H494.50V524.3H494.75V524.7H495.00V525.1H495.25V525.5H495.50V525.9H495.75V526.3H496.00V526.6H496.25V526.9H496.50V527.1H496.75V527.2H497.00V527.4H497.25V527.6H497.50V527.4H497.75V526.9H498.00V526.4H498.25V525.9H498.50V525.4H498.75V524.8H499.00V524.0H499.25V523.3H499.50V522.5H499.75V521.8H500.00V521.2H500.25V520.8H500.50V520.5H500.75V520.20ZM508.00 520.20V520.8H508.25V521.2H508.50V521.6H508.75V521.9H509.00V522.3H509.25V522.7H509.50V522.9H509.75V522.7H510.00V522.5H510.25V522.3H510.50V522.1H510.75V521.9H511.00V521.6H511.25V521.3H511.50V521.0H511.75V520.7H512.00V520.20ZM516.50 520.20V520.7H516.75V521.2H517.00V521.8H517.25V522.3H517.50V522.9H517.75V523.1H518.00V522.6H518.25V522.1H518.50V521.7H518.75V521.2H519.00V520.8H519.25V520.20ZM526.50 520.20V520.9H526.75V521.5H527.00V522.0H527.25V522.6H527.50V523.1H527.75V523.7H528.00V524.1H528.25V524.3H528.50V524.6H528.75V524.9H529.00V525.2H529.25V525.5H529.50V525.8H529.75V526.0H530.00V525.7H530.25V525.3H530.50V525.0H530.75V524.7H531.00V524.3H531.25V524.0H531.50V523.6H531.75V523.1H532.00V522.6H532.25V522.0H532.50V521.5H532.75V521.0H533.00V520.6H533.25V520.20ZM535.50 520.20V520.6H535.75V521.3H536.00V522.0H536.25V522.6H536.50V523.3H536.75V523.9H537.00V524.1H537.25V524.3H537.50V524.5H537.75V524.8H538.00V525.0H538.25V525.2H538.50V525.4H538.75V525.5H539.00V525.4H539.50V525.3H540.00V525.2H540.50V525.1H540.75V524.7H541.00V524.2H541.25V523.7H541.50V523.3H541.75V520.7H542.00V520.20ZM545.00 520.20V520.5H545.25V520.6H545.50V520.7H545.75V520.8H546.00V520.9H546.50V520.7H546.75V520.5H547.00V520.20ZM553.25 520.20V520.5H553.50V520.7H553.75V521.0H554.00V521.2H554.25V521.5H554.50V521.6H554.75V521.1H555.00V520.6H555.25V520.20ZM556.50 520.20V520.6H556.75V520.9H557.00V521.3H557.25V521.6H557.50V521.9H557.75V522.3H558.00V522.6H558.25V522.9H558.50V523.2H558.75V523.4H559.00V523.7H559.25V523.9H559.50V524.2H559.75V524.0H560.00V523.6H560.25V523.3H560.50V523.0H560.75V522.7H561.00V522.3H561.25V521.8H561.50V521.4H561.75V521.0H562.00V520.6H562.25V520.20ZM585.75 520.20V520.6H586.00V521.1H586.25V521.6H586.50V522.1H586.75V522.6H587.00V523.1H587.25V523.4H587.50V523.8H587.75V524.1H588.00V524.5H588.25V524.7H588.50V524.4H588.75V524.1H589.00V523.8H589.25V523.5H589.50V523.1H589.75V522.0H590.00V520.9H590.25V520.20ZM597.25 520.20V520.7H597.50V521.0H597.75V521.4H598.00V521.7H598.25V522.1H598.50V522.3H598.75V522.4H599.00V522.6H599.25V522.7H599.50V522.9H599.75V522.8H600.00V522.5H600.25V522.2H600.50V521.8H600.75V521.5H601.00V521.2H601.25V520.8H601.50V520.5H601.75V520.20ZM608.75 520.20V521.4H609.00V522.3H609.25V523.3H609.50V523.8H609.75V523.6H610.00V523.4H610.25V523.3H610.50V523.1H610.75V522.7H611.00V522.1H611.25V521.5H611.50V520.9H611.75V520.20ZM617.00 520.20V520.7H617.25V521.0H617.50V521.3H617.75V521.6H618.00V521.9H618.25V521.4H618.50V520.8H618.75V520.20ZM624.50 520.20V520.7H624.75V521.3H625.00V521.8H625.25V522.4H625.50V522.9H625.75V523.3H626.00V523.5H626.25V523.6H626.50V523.8H626.75V524.0H627.00V524.1H627.25V524.2H627.50V524.0H627.75V523.8H628.00V523.6H628.25V523.4H628.50V523.2H628.75V523.0H629.00V522.4H629.25V521.7H629.50V521.0H629.75V520.20ZM634.00 520.20V520.6H634.25V520.9H634.50V521.2H634.75V521.5H635.00V521.8H635.25V522.0H635.50V522.2H635.75V522.4H636.00V522.6H636.25V522.8H636.50V523.0H636.75V523.2H637.00V523.1H637.25V522.9H637.50V522.6H637.75V522.4H638.00V522.2H638.25V522.0H638.50V521.5H638.75V520.9H639.00V520.20ZM645.75 520.20V521.3H646.00V522.4H646.25V523.5H646.50V524.0H646.75V524.3H647.00V524.5H647.25V524.7H647.50V524.1H647.75V523.6H648.00V523.1H648.25V522.5H648.50V521.4H648.75V520.20ZM651.75 520.20V520.6H652.00V521.0H652.25V521.4H652.50V521.9H652.75V522.3H653.00V522.7H653.25V523.1H653.50V523.5H653.75V523.9H654.00V524.3H654.25V524.6H654.50V525.0H654.75V525.4H655.00V525.6H655.25V525.8H655.50V525.9H655.75V526.0H656.00V526.2H656.25V526.3H656.50V526.2H656.75V526.0H657.00V525.7H657.25V525.5H657.50V525.2H657.75V525.0H658.00V524.7H658.25V524.2H658.50V523.6H658.75V523.1H659.00V522.5H659.25V522.0H659.50V521.0H659.75V520.20ZM663.75 520.20V520.5H664.00V520.6H664.25V520.7H664.50V520.8H664.75V520.9H665.00V520.8H665.25V520.6H665.50V520.5H665.75V520.20ZM672.00 520.20V520.5H672.25V520.9H672.50V521.4H672.75V521.8H673.00V522.2H673.25V522.6H673.50V523.0H673.75V523.4H674.00V523.7H674.25V524.0H674.50V524.3H674.75V524.7H675.00V525.0H675.25V525.1H675.50V525.0H675.75V524.9H676.00V524.8H676.25V524.7H676.50V524.6H676.75V524.3H677.00V524.0H677.25V523.6H677.50V523.2H677.75V522.8H678.00V522.1H678.25V520.7H678.50V520.20ZM681.50 520.20V520.5H681.75V520.9H682.00V521.4H682.25V521.8H682.50V522.3H682.75V522.7H683.00V523.2H683.25V523.6H683.50V524.1H683.75V524.6H684.00V525.1H684.25V525.6H684.50V526.1H684.75V526.6H685.00V527.1H685.25V527.6H685.75V527.5H686.00V527.4H686.25V527.3H686.75V527.2H687.00V527.1H687.25V527.0H687.50V526.8H687.75V526.7H688.00V526.5H688.25V526.3H688.50V526.2H688.75V526.0H689.00V525.8H689.25V525.7H689.50V525.6H689.75V525.5H690.25V525.4H690.50V525.3H690.75V525.2H691.00V525.1H691.25V525.8H691.50V526.4H691.75V527.0H692.00V527.6H692.25V528.3H692.50V528.5H692.75V528.7H693.00V528.9H693.25V529.1H693.50V529.3H693.75V529.5H694.00V529.7H694.50V529.4H694.75V529.2H695.00V528.9H695.25V528.6H695.50V528.3H695.75V528.0H696.00V527.7H696.25V527.4H696.50V527.1H696.75V526.8H697.00V526.4H697.25V526.1H697.50V525.8H697.75V525.4H698.00V525.1H698.25V524.7H698.50V524.2H698.75V523.8H699.00V523.4H699.25V523.0H699.50V522.6H699.75V522.2H700.00V521.7H700.25V521.1H700.50V520.5H700.75V520.20ZM704.50 520.20V520.8H704.75V521.4H705.00V521.9H705.25V522.5H705.50V523.0H705.75V522.9H706.00V522.4H706.25V522.0H706.50V521.5H706.75V520.8H707.00V520.20ZM711.75 520.20V520.6H712.00V521.3H712.25V522.0H712.50V522.7H712.75V523.3H713.00V523.9H713.25V524.3H713.50V524.6H713.75V525.0H714.00V525.4H714.25V525.7H714.50V526.0H714.75V525.9H715.00V525.7H715.25V525.6H715.50V525.4H715.75V525.3H716.00V525.1H716.25V523.8H716.50V522.6H716.75V521.3H717.00V520.5H717.25V520.20ZM722.50 520.20V520.8H722.75V521.5H723.00V522.1H723.25V522.7H723.50V522.8H723.75V522.5H724.00V522.1H724.25V521.8H724.50V521.5H724.75V521.2H725.00V521.0H725.25V520.8H725.50V520.6H725.75V520.20ZM735.00 520.20V521.0H735.25V522.1H735.50V523.2H735.75V523.6H736.00V524.0H736.25V524.3H736.50V524.7H736.75V525.1H737.00V526.7H737.25V528.4H737.50V529.6H737.75V529.8H738.00V530.0H738.25V530.1H738.50V530.3H738.75V530.5H739.00V530.6H739.25V530.8H739.50V530.5H739.75V530.0H740.00V529.5H740.25V529.0H740.50V528.5H740.75V528.0H741.00V527.5H741.25V526.7H741.50V524.1H741.75V521.5H742.00V520.20ZM752.75 520.20V521.0H753.00V522.4H753.25V523.7H753.50V523.9H755.00V523.7H755.25V523.2H755.50V522.6H755.75V522.1H756.00V521.2H756.25V520.20ZM759.75 520.20V521.3H760.00V522.9H760.25V524.5H760.50V524.7H760.75V524.8H761.00V525.0H761.25V525.2H761.50V525.3H761.75V525.5H762.00V525.7H762.25V525.8H763.25V525.9H764.25V526.0H765.00V525.8H765.25V525.6H765.50V525.4H765.75V525.2H766.00V525.0H766.25V524.8H766.50V524.6H766.75V523.5H767.00V521.9H767.25V520.20ZM772.75 520.20V520.6H773.00V521.2H773.25V521.8H773.50V521.5H773.75V520.9H774.00V520.20ZM794.50 520.20V521.1H794.75V521.8H795.00V522.5H795.25V522.8H795.50V522.4H795.75V522.0H796.00V521.6H796.25V521.2H796.50V520.9H796.75V520.5H797.00V520.20ZM801.00 520.20V520.6H801.25V520.9H801.50V521.2H801.75V521.5H802.00V521.8H802.25V522.1H802.50V522.3H802.75V522.6H803.00V522.8H803.25V523.1H803.50V523.3H803.75V523.6H804.00V523.8H804.25V523.6H804.50V523.4H804.75V523.1H805.00V522.9H805.25V522.6H805.50V522.4H805.75V522.1H806.00V521.8H806.25V521.4H806.50V521.1H806.75V520.7H807.00V520.20ZM810.50 520.20V520.5H810.75V520.6H811.00V520.8H811.25V520.9H811.50V520.8H811.75V520.6H812.00V520.5H812.25V520.20ZM819.50 520.20V520.7H819.75V521.0H820.00V521.3H820.25V521.6H820.50V521.9H820.75V521.8H821.00V521.6H821.25V521.4H821.50V521.2H821.75V521.0H822.00V520.7H822.25V520.20ZM838.00 520.20V520.5H838.25V520.9H838.50V521.2H838.75V521.6H839.00V521.9H839.25V522.3H839.50V522.6H839.75V523.0H840.00V523.3H840.25V523.7H840.50V524.0H840.75V524.4H841.25V524.2H841.50V524.0H841.75V523.7H842.00V521.4H842.25V520.20ZM846.75 520.20V520.7H847.00V521.1H847.25V521.4H847.50V521.8H847.75V522.1H848.25V521.9H848.50V521.7H848.75V521.6H849.00V521.4H849.25V521.1H849.50V520.7H849.75V520.20ZM853.75 520.20V520.6H854.00V520.9H854.25V521.1H854.50V521.3H854.75V521.6H855.00V521.8H855.25V522.0H855.50V522.3H855.75V522.6H856.00V522.9H856.25V523.2H856.50V523.5H856.75V523.8H857.00V524.1H857.50V523.8H857.75V523.5H858.00V523.2H858.25V523.0H858.50V522.7H858.75V522.3H859.00V521.9H859.25V521.5H859.50V521.1H859.75V520.6H860.00V520.20ZM864.50 520.20V520.8H864.75V521.4H865.00V521.9H865.25V522.5H865.50V523.0H865.75V523.5H866.00V523.8H866.25V524.2H866.50V524.6H866.75V525.0H867.00V524.9H867.25V524.4H867.50V523.9H867.75V523.4H868.00V522.7H868.25V521.6H868.50V520.5H868.75V520.20ZM875.25 520.20V520.6H875.50V520.8H875.75V521.1H876.00V521.3H876.25V521.6H876.75V521.5H877.00V521.3H877.25V521.2H877.50V521.0H877.75V520.9H878.00V520.7H878.25V520.5H878.50V520.20ZM892.50 520.20V520.5H892.75V521.0H893.00V521.5H893.25V522.0H893.50V522.6H893.75V522.7H894.25V522.8H894.50V522.9H895.00V520.20ZM897.75 520.20V520.7H898.00V521.4H898.25V522.1H898.50V522.8H898.75V523.5H899.00V524.2H899.25V524.9H899.50V525.4H899.75V525.7H900.00V526.0H900.25V526.4H900.50V526.7H900.75V527.0H901.00V527.4H901.25V527.6H901.50V527.4H901.75V527.1H902.00V526.9H902.25V526.6H902.50V526.4H902.75V526.1H903.00V525.9H903.25V525.5H903.50V525.1H903.75V524.6H904.00V524.1H904.25V523.7H904.50V523.2H904.75V522.7H905.00V522.3H905.25V521.8H905.50V521.4H905.75V520.9H906.00V520.5H906.25V520.20ZM907.00 520.20V520.5H907.25V521.0H907.50V521.4H907.75V521.8H908.00V522.2H908.25V522.6H908.50V522.5H908.75V522.4H909.00V522.3H909.25V522.2H909.75V522.1H910.00V522.0H910.25V521.7H910.50V521.4H910.75V521.0H911.00V520.6H911.25V520.20ZM912.75 520.20V520.7H913.00V521.4H913.25V522.1H913.50V522.7H913.75V523.4H914.00V523.8H914.25V523.5H914.50V523.3H914.75V523.0H915.00V522.8H915.25V522.3H915.50V521.5H915.75V520.6H916.00V520.20ZM928.75 520.20V520.5H929.00V520.6H929.25V520.7H929.50V520.8H929.75V520.9H930.00V520.8H930.25V520.7H930.50V520.6H930.75V520.5H931.00V520.4H931.25V520.20ZM938.75 520.20V520.5H939.00V520.6H939.25V520.7H939.50V520.8H939.75V520.9H940.25V520.7H940.50V520.5H940.75V520.20ZM948.50 520.20V520.5H948.75V520.6H949.00V520.7H949.25V520.8H949.50V520.9H949.75V520.7H950.00V520.6H950.25V520.20ZM962.00 520.20V521.2H962.25V522.7H962.50V524.2H962.75V525.7H963.00V526.6H963.25V527.5H963.50V528.4H963.75V528.6H964.00V527.6H964.25V526.7H964.50V525.8H964.75V524.5H965.00V522.7H965.25V520.8H965.50V520.20ZM969.00 520.20V521.0H969.25V521.9H969.50V522.9H969.75V523.9H970.00V524.2H970.25V524.5H970.50V524.8H970.75V525.1H971.00V524.5H971.25V523.7H971.50V523.0H971.75V522.0H972.00V520.6H972.25V520.20ZM974.75 520.20V520.8H975.00V521.2H975.25V521.7H975.50V522.1H975.75V522.6H976.00V523.1H976.25V523.5H976.50V523.8H976.75V524.2H977.00V524.6H977.25V525.0H977.50V524.4H977.75V523.2H978.00V521.9H978.25V520.9H978.50V520.20ZM980.75 520.20V521.1H981.00V521.9H981.25V522.7H981.50V523.5H981.75V524.3H982.00V524.8H982.25V525.1H982.50V525.4H982.75V525.8H983.00V526.1H983.25V526.4H983.50V526.8H983.75V527.1H984.00V527.5H984.25V527.9H984.50V528.4H984.75V528.8H985.00V529.2H985.25V529.6H985.50V530.0H985.75V530.2H986.00V530.1H986.25V530.0H986.50V529.9H986.75V529.8H987.00V529.7H987.50V529.6H987.75V529.9H988.00V530.2H988.25V530.5H988.50V530.8H988.75V531.1H989.00V531.4H989.25V528.4H989.50V524.8H989.75V521.1H990.00V520.20ZM990.75 520.20V521.5H991.00V525.6H991.25V529.7H991.50V531.7H991.75V533.0H992.00V534.2H992.25V535.5H992.50V536.7H992.75V537.1H993.00V536.9H993.25V536.7H993.50V536.6H993.75V536.4H994.00V536.2H994.25V536.1H994.50V535.9H994.75V535.6H995.00V535.2H995.25V534.9H995.50V534.6H995.75V534.2H996.00V533.9H996.25V533.6H996.50V532.8H996.75V531.3H997.00V529.8H997.25V528.3H997.50V526.8H997.75V524.0H998.00V520.20ZM1003.50 520.20V520.7H1003.75V521.1H1004.00V521.6H1004.25V522.0H1004.50V522.5H1004.75V522.9H1005.00V523.4H1005.25V523.8H1005.50V524.1H1005.75V524.3H1006.00V524.6H1006.25V524.8H1006.50V525.1H1006.75V525.3H1007.00V525.6H1007.25V525.7H1007.50V525.6H1007.75V525.4H1008.00V525.2H1008.25V525.1H1008.50V524.9H1008.75V524.7H1009.00V524.6H1009.25V523.5H1009.50V521.9H1009.75V520.20ZM1013.75 520.20V520.6H1014.00V520.9H1014.25V521.1H1014.50V521.3H1014.75V521.6H1015.00V521.8H1015.25V522.0H1015.50V522.3H1015.75V522.5H1016.00V522.7H1016.25V522.9H1016.50V523.1H1016.75V523.3H1017.00V523.6H1017.25V523.8H1017.50V524.0H1017.75V524.2H1018.00V524.4H1018.25V524.6H1018.50V524.9H1018.75V525.1H1019.00V525.3H1019.25V525.5H1019.50V525.2H1019.75V524.8H1020.00V524.5H1020.25V524.2H1020.50V523.9H1020.75V522.6H1021.00V521.2H1021.25V520.20ZM1027.50 520.20V520.5H1027.75V521.4H1028.00V522.3H1028.25V523.2H1028.50V524.2H1028.75V525.1H1029.00V525.6H1029.25V526.1H1029.50V526.6H1029.75V527.0H1030.00V527.5H1030.25V528.0H1030.50V528.1H1030.75V527.6H1031.00V527.1H1031.25V526.5H1031.50V526.0H1031.75V525.5H1032.00V524.8H1032.25V523.7H1032.50V522.5H1032.75V521.3H1033.00V520.20ZM1039.75 520.20V520.9H1040.00V521.4H1040.25V522.0H1040.50V522.5H1040.75V523.1H1041.00V523.3H1041.25V523.5H1041.50V523.7H1041.75V523.8H1042.00V524.0H1042.25V524.2H1042.50V524.3H1042.75V524.5H1043.00V524.3H1043.25V524.1H1043.50V524.0H1043.75V523.8H1044.00V523.6H1044.25V523.5H1044.50V523.3H1044.75V523.2H1045.00V523.1H1045.25V523.0H1045.50V522.9H1045.75V522.8H1046.00V522.7H1046.25V522.6H1046.50V522.5H1046.75V522.4H1047.00V522.3H1047.25V522.2H1047.50V522.1H1048.00V522.0H1048.50V521.9H1048.75V521.8H1049.25V521.7H1049.75V521.6H1050.00V521.5H1050.50V521.4H1051.00V521.3H1051.50V521.2H1052.25V521.1H1053.00V521.0H1053.50V520.9H1054.00V520.8H1054.75V520.7H1055.00V520.20ZM1064.25 520.20V525.3H1064.50V528.3H1066.50V528.0H1066.75V527.6H1067.00V527.2H1067.25V526.9H1067.50V526.5H1067.75V526.1H1068.00V525.7H1068.25V525.3H1068.50V524.8H1068.75V524.4H1069.00V524.0H1069.25V523.6H1069.50V523.1H1069.75V522.7H1070.00V522.2H1070.25V521.8H1070.50V521.4H1070.75V520.9H1071.00V520.6H1071.25V520.20ZM1085.50 520.20V520.5H1085.75V520.7H1086.00V520.9H1086.25V521.0H1086.50V521.2H1086.75V521.4H1087.00V521.5H1087.25V521.7H1087.50V521.8H1087.75V521.9H1088.00V522.0H1088.25V522.1H1088.75V522.2H1089.00V522.3H1089.25V522.4H1089.50V522.5H1089.75V522.6H1090.00V520.7H1090.25V520.20ZM1092.00 520.20V520.9H1092.25V522.6H1092.50V523.6H1092.75V522.5H1093.00V521.3H1093.25V520.20ZM1103.75 520.20V520.5H1104.00V520.9H1104.25V521.3H1104.50V521.7H1104.75V522.2H1105.00V522.6H1105.25V523.1H1105.50V523.6H1105.75V524.1H1106.00V524.6H1106.25V525.1H1106.50V524.8H1106.75V524.5H1107.00V524.2H1107.25V523.9H1107.50V522.7H1107.75V521.4H1108.00V520.20ZM1113.50 520.20V520.6H1113.75V520.8H1114.00V520.9H1114.25V521.1H1114.50V521.3H1114.75V521.4H1115.00V521.6H1115.25V521.8H1115.50V522.0H1115.75V522.2H1116.00V522.4H1116.25V522.5H1116.50V522.7H1116.75V522.9H1117.00V522.4H1117.25V521.7H1117.50V521.0H1117.75V520.20ZM1124.75 520.20V520.6H1125.00V521.3H1125.25V522.0H1125.50V522.7H1125.75V523.3H1126.00V524.1H1126.25V525.2H1126.50V526.4H1126.75V527.5H1127.00V528.6H1127.25V529.6H1127.50V529.5H1127.75V529.4H1128.00V529.3H1128.25V529.2H1128.50V529.1H1129.00V529.0H1129.25V528.7H1129.50V528.3H1129.75V527.9H1130.00V527.4H1130.25V527.0H1130.50V526.6H1130.75V526.2H1131.00V525.8H1131.25V525.4H1131.50V523.9H1131.75V520.8H1132.00V520.20ZM1138.75 520.20V520.5H1139.00V520.6H1139.25V520.7H1139.50V520.9H1140.00V520.7H1140.25V520.6H1140.50V520.5H1140.75V520.20ZM1146.50 520.20V520.4H1146.75V521.0H1147.00V521.5H1147.25V522.0H1147.50V522.6H1147.75V523.2H1148.00V523.8H1148.25V524.4H1148.50V525.1H1148.75V525.7H1149.00V526.0H1149.25V526.2H1149.50V526.5H1149.75V526.7H1150.00V527.0H1150.25V526.7H1150.50V526.2H1150.75V525.7H1151.00V525.3H1151.25V524.5H1151.50V523.6H1151.75V522.7H1152.00V521.8H1152.25V520.8H1152.50V520.20ZM1158.75 520.20V520.5H1159.00V520.9H1159.25V521.2H1159.50V521.6H1159.75V521.9H1160.00V522.2H1160.25V522.4H1160.50V522.5H1160.75V522.7H1161.00V522.8H1161.50V521.6H1161.75V520.20ZM1166.00 520.20V520.6H1166.25V521.1H1166.50V521.6H1166.75V522.1H1167.00V522.6H1167.25V523.1H1167.50V523.7H1167.75V524.2H1168.00V524.8H1168.25V525.3H1168.50V525.7H1168.75V525.3H1169.00V524.9H1169.25V524.6H1169.50V524.2H1169.75V523.8H1170.00V523.3H1170.25V522.8H1170.50V522.3H1170.75V521.8H1171.00V521.3H1171.25V520.7H1171.50V520.20ZM1186.75 520.20V520.8H1187.00V521.3H1187.25V521.9H1187.50V522.4H1187.75V523.0H1188.00V523.4H1188.25V523.8H1188.50V524.2H1188.75V524.5H1189.00V524.9H1189.50V524.4H1189.75V523.8H1190.00V523.3H1190.25V522.2H1190.50V521.1H1190.75V520.20ZM1195.25 520.20V520.6H1195.50V521.0H1195.75V521.4H1196.00V521.7H1196.25V522.1H1196.50V522.5H1196.75V522.8H1197.00V523.2H1197.25V523.5H1197.50V523.7H1197.75V524.0H1198.00V524.2H1198.25V524.5H1198.50V524.7H1198.75V525.0H1199.00V525.2H1199.25V525.4H1199.50V525.6H1199.75V525.9H1200.00V526.1H1200.25V526.3H1200.50V526.5H1200.75V526.7H1201.00V526.5H1201.25V526.1H1201.50V525.7H1201.75V525.3H1202.00V522.0H1202.25V520.20ZM1207.25 520.20V520.6H1207.50V521.2H1207.75V521.7H1208.00V522.3H1208.25V522.8H1208.50V523.4H1208.75V524.2H1209.00V524.9H1209.25V523.7H1209.50V521.9H1209.75V520.20ZM1215.75 520.20V520.5H1216.00V521.2H1216.25V521.9H1216.50V522.6H1216.75V522.5H1217.00V522.4H1217.25V522.3H1217.50V521.7H1217.75V520.5H1218.00V520.20ZM1227.00 520.20V520.7H1227.25V521.5H1227.50V522.3H1227.75V523.1H1228.00V523.9H1228.25V524.7H1228.50V525.2H1228.75V525.8H1229.00V526.3H1229.25V526.9H1229.50V527.2H1229.75V527.1H1230.00V526.9H1230.25V526.7H1230.50V526.5H1230.75V526.3H1231.00V525.7H1231.25V525.1H1231.50V524.4H1231.75V523.8H1232.00V522.8H1232.25V521.8H1232.50V520.9H1232.75V520.20ZM1234.00 520.20V520.8H1234.25V521.7H1234.50V522.5H1235.00V522.4H1235.25V522.3H1235.50V522.2H1235.75V520.7H1236.00V520.20Z" fill="#9BBB59"/>
<rect x="259.0" y="516.9" width="976.7" height="3.30" fill="#868686"/>
<text transform="translate(263.05,523.8) rotate(-90) scale(1,1.13)" text-rendering="geometricPrecision" text-anchor="end" font-size="8.7" fill="#000" stroke="#000" stroke-width="0.12">1800</text>
<text transform="translate(275.70,523.8) rotate(-90) scale(1,1.13)" text-rendering="geometricPrecision" text-anchor="end" font-size="8.7" fill="#000" stroke="#000" stroke-width="0.12">1801</text>
<text transform="translate(288.36,523.8) rotate(-90) scale(1,1.13)" text-rendering="geometricPrecision" text-anchor="end" font-size="8.7" fill="#000" stroke="#000" stroke-width="0.12">1803</text>
<text transform="translate(301.01,523.8) rotate(-90) scale(1,1.13)" text-rendering="geometricPrecision" text-anchor="end" font-size="8.7" fill="#000" stroke="#000" stroke-width="0.12">1804</text>
<text transform="translate(313.67,523.8) rotate(-90) scale(1,1.13)" text-rendering="geometricPrecision" text-anchor="end" font-size="8.7" fill="#000" stroke="#000" stroke-width="0.12">1805</text>
<text transform="translate(326.32,523.8) rotate(-90) scale(1,1.13)" text-rendering="geometricPrecision" text-anchor="end" font-size="8.7" fill="#000" stroke="#000" stroke-width="0.12">1807</text>
<text transform="translate(338.97,523.8) rotate(-90) scale(1,1.13)" text-rendering="geometricPrecision" text-anchor="end" font-size="8.7" fill="#000" stroke="#000" stroke-width="0.12">1808</text>
<text transform="translate(351.63,523.8) rotate(-90) scale(1,1.13)" text-rendering="geometricPrecision" text-anchor="end" font-size="8.7" fill="#000" stroke="#000" stroke-width="0.12">1809</text>
<text transform="translate(364.28,523.8) rotate(-90) scale(1,1.13)" text-rendering="geometricPrecision" text-anchor="end" font-size="8.7" fill="#000" stroke="#000" stroke-width="0.12">1811</text>
<text transform="translate(376.94,523.8) rotate(-90) scale(1,1.13)" text-rendering="geometricPrecision" text-anchor="end" font-size="8.7" fill="#000" stroke="#000" stroke-width="0.12">1812</text>
<text transform="translate(389.59,523.8) rotate(-90) scale(1,1.13)" text-rendering="geometricPrecision" text-anchor="end" font-size="8.7" fill="#000" stroke="#000" stroke-width="0.12">1813</text>
<text transform="translate(402.24,523.8) rotate(-90) scale(1,1.13)" text-rendering="geometricPrecision" text-anchor="end" font-size="8.7" fill="#000" stroke="#000" stroke-width="0.12">1815</text>
<text transform="translate(414.90,523.8) rotate(-90) scale(1,1.13)" text-rendering="geometricPrecision" text-anchor="end" font-size="8.7" fill="#000" stroke="#000" stroke-width="0.12">1816</text>
<text transform="translate(427.55,523.8) rotate(-90) scale(1,1.13)" text-rendering="geometricPrecision" text-anchor="end" font-size="8.7" fill="#000" stroke="#000" stroke-width="0.12">1817</text>
<text transform="translate(440.21,523.8) rotate(-90) scale(1,1.13)" text-rendering="geometricPrecision" text-anchor="end" font-size="8.7" fill="#000" stroke="#000" stroke-width="0.12">1818</text>
<text transform="translate(452.86,523.8) rotate(-90) scale(1,1.13)" text-rendering="geometricPrecision" text-anchor="end" font-size="8.7" fill="#000" stroke="#000" stroke-width="0.12">1820</text>
<text transform="translate(465.51,523.8) rotate(-90) scale(1,1.13)" text-rendering="geometricPrecision" text-anchor="end" font-size="8.7" fill="#000" stroke="#000" stroke-width="0.12">1821</text>
<text transform="translate(478.17,523.8) rotate(-90) scale(1,1.13)" text-rendering="geometricPrecision" text-anchor="end" font-size="8.7" fill="#000" stroke="#000" stroke-width="0.12">1822</text>
<text transform="translate(490.82,523.8) rotate(-90) scale(1,1.13)" text-rendering="geometricPrecision" text-anchor="end" font-size="8.7" fill="#000" stroke="#000" stroke-width="0.12">1824</text>
<text transform="translate(503.48,523.8) rotate(-90) scale(1,1.13)" text-rendering="geometricPrecision" text-anchor="end" font-size="8.7" fill="#000" stroke="#000" stroke-width="0.12">1825</text>
<text transform="translate(516.13,523.8) rotate(-90) scale(1,1.13)" text-rendering="geometricPrecision" text-anchor="end" font-size="8.7" fill="#000" stroke="#000" stroke-width="0.12">1826</text>
<text transform="translate(528.78,523.8) rotate(-90) scale(1,1.13)" text-rendering="geometricPrecision" text-anchor="end" font-size="8.7" fill="#000" stroke="#000" stroke-width="0.12">1827</text>
<text transform="translate(541.44,523.8) rotate(-90) scale(1,1.13)" text-rendering="geometricPrecision" text-anchor="end" font-size="8.7" fill="#000" stroke="#000" stroke-width="0.12">1828</text>
<text transform="translate(554.09,523.8) rotate(-90) scale(1,1.13)" text-rendering="geometricPrecision" text-anchor="end" font-size="8.7" fill="#000" stroke="#000" stroke-width="0.12">1830</text>
<text transform="translate(566.75,523.8) rotate(-90) scale(1,1.13)" text-rendering="geometricPrecision" text-anchor="end" font-size="8.7" fill="#000" stroke="#000" stroke-width="0.12">1831</text>
<text transform="translate(579.40,523.8) rotate(-90) scale(1,1.13)" text-rendering="geometricPrecision" text-anchor="end" font-size="8.7" fill="#000" stroke="#000" stroke-width="0.12">1832</text>
<text transform="translate(592.05,523.8) rotate(-90) scale(1,1.13)" text-rendering="geometricPrecision" text-anchor="end" font-size="8.7" fill="#000" stroke="#000" stroke-width="0.12">1833</text>
<text transform="translate(604.71,523.8) rotate(-90) scale(1,1.13)" text-rendering="geometricPrecision" text-anchor="end" font-size="8.7" fill="#000" stroke="#000" stroke-width="0.12">1834</text>
<text transform="translate(617.36,523.8) rotate(-90) scale(1,1.13)" text-rendering="geometricPrecision" text-anchor="end" font-size="8.7" fill="#000" stroke="#000" stroke-width="0.12">1836</text>
<text transform="translate(630.02,523.8) rotate(-90) scale(1,1.13)" text-rendering="geometricPrecision" text-anchor="end" font-size="8.7" fill="#000" stroke="#000" stroke-width="0.12">1837</text>
<text transform="translate(642.67,523.8) rotate(-90) scale(1,1.13)" text-rendering="geometricPrecision" text-anchor="end" font-size="8.7" fill="#000" stroke="#000" stroke-width="0.12">1838</text>
<text transform="translate(655.32,523.8) rotate(-90) scale(1,1.13)" text-rendering="geometricPrecision" text-anchor="end" font-size="8.7" fill="#000" stroke="#000" stroke-width="0.12">1840</text>
<text transform="translate(667.98,523.8) rotate(-90) scale(1,1.13)" text-rendering="geometricPrecision" text-anchor="end" font-size="8.7" fill="#000" stroke="#000" stroke-width="0.12">1841</text>
<text transform="translate(680.63,523.8) rotate(-90) scale(1,1.13)" text-rendering="geometricPrecision" text-anchor="end" font-size="8.7" fill="#000" stroke="#000" stroke-width="0.12">1842</text>
<text transform="translate(693.29,523.8) rotate(-90) scale(1,1.13)" text-rendering="geometricPrecision" text-anchor="end" font-size="8.7" fill="#000" stroke="#000" stroke-width="0.12">1844</text>
<text transform="translate(705.94,523.8) rotate(-90) scale(1,1.13)" text-rendering="geometricPrecision" text-anchor="end" font-size="8.7" fill="#000" stroke="#000" stroke-width="0.12">1845</text>
<text transform="translate(718.59,523.8) rotate(-90) scale(1,1.13)" text-rendering="geometricPrecision" text-anchor="end" font-size="8.7" fill="#000" stroke="#000" stroke-width="0.12">1846</text>
<text transform="translate(731.25,523.8) rotate(-90) scale(1,1.13)" text-rendering="geometricPrecision" text-anchor="end" font-size="8.7" fill="#000" stroke="#000" stroke-width="0.12">1848</text>
<text transform="translate(743.90,523.8) rotate(-90) scale(1,1.13)" text-rendering="geometricPrecision" text-anchor="end" font-size="8.7" fill="#000" stroke="#000" stroke-width="0.12">1849</text>
<text transform="translate(756.56,523.8) rotate(-90) scale(1,1.13)" text-rendering="geometricPrecision" text-anchor="end" font-size="8.7" fill="#000" stroke="#000" stroke-width="0.12">1850</text>
<text transform="translate(769.21,523.8) rotate(-90) scale(1,1.13)" text-rendering="geometricPrecision" text-anchor="end" font-size="8.7" fill="#000" stroke="#000" stroke-width="0.12">1851</text>
<text transform="translate(781.86,523.8) rotate(-90) scale(1,1.13)" text-rendering="geometricPrecision" text-anchor="end" font-size="8.7" fill="#000" stroke="#000" stroke-width="0.12">1853</text>
<text transform="translate(794.52,523.8) rotate(-90) scale(1,1.13)" text-rendering="geometricPrecision" text-anchor="end" font-size="8.7" fill="#000" stroke="#000" stroke-width="0.12">1854</text>
<text transform="translate(807.17,523.8) rotate(-90) scale(1,1.13)" text-rendering="geometricPrecision" text-anchor="end" font-size="8.7" fill="#000" stroke="#000" stroke-width="0.12">1855</text>
<text transform="translate(819.83,523.8) rotate(-90) scale(1,1.13)" text-rendering="geometricPrecision" text-anchor="end" font-size="8.7" fill="#000" stroke="#000" stroke-width="0.12">1856</text>
<text transform="translate(832.48,523.8) rotate(-90) scale(1,1.13)" text-rendering="geometricPrecision" text-anchor="end" font-size="8.7" fill="#000" stroke="#000" stroke-width="0.12">1858</text>
<text transform="translate(845.13,523.8) rotate(-90) scale(1,1.13)" text-rendering="geometricPrecision" text-anchor="end" font-size="8.7" fill="#000" stroke="#000" stroke-width="0.12">1859</text>
<text transform="translate(857.79,523.8) rotate(-90) scale(1,1.13)" text-rendering="geometricPrecision" text-anchor="end" font-size="8.7" fill="#000" stroke="#000" stroke-width="0.12">1861</text>
<text transform="translate(870.44,523.8) rotate(-90) scale(1,1.13)" text-rendering="geometricPrecision" text-anchor="end" font-size="8.7" fill="#000" stroke="#000" stroke-width="0.12">1862</text>
<text transform="translate(883.10,523.8) rotate(-90) scale(1,1.13)" text-rendering="geometricPrecision" text-anchor="end" font-size="8.7" fill="#000" stroke="#000" stroke-width="0.12">1864</text>
<text transform="translate(895.75,523.8) rotate(-90) scale(1,1.13)" text-rendering="geometricPrecision" text-anchor="end" font-size="8.7" fill="#000" stroke="#000" stroke-width="0.12">1865</text>
<text transform="translate(908.40,523.8) rotate(-90) scale(1,1.13)" text-rendering="geometricPrecision" text-anchor="end" font-size="8.7" fill="#000" stroke="#000" stroke-width="0.12">1866</text>
<text transform="translate(921.06,523.8) rotate(-90) scale(1,1.13)" text-rendering="geometricPrecision" text-anchor="end" font-size="8.7" fill="#000" stroke="#000" stroke-width="0.12">1868</text>
<text transform="translate(933.71,523.8) rotate(-90) scale(1,1.13)" text-rendering="geometricPrecision" text-anchor="end" font-size="8.7" fill="#000" stroke="#000" stroke-width="0.12">1869</text>
<text transform="translate(946.37,523.8) rotate(-90) scale(1,1.13)" text-rendering="geometricPrecision" text-anchor="end" font-size="8.7" fill="#000" stroke="#000" stroke-width="0.12">1870</text>
<text transform="translate(959.02,523.8) rotate(-90) scale(1,1.13)" text-rendering="geometricPrecision" text-anchor="end" font-size="8.7" fill="#000" stroke="#000" stroke-width="0.12">1872</text>
<text transform="translate(971.67,523.8) rotate(-90) scale(1,1.13)" text-rendering="geometricPrecision" text-anchor="end" font-size="8.7" fill="#000" stroke="#000" stroke-width="0.12">1874</text>
<text transform="translate(984.33,523.8) rotate(-90) scale(1,1.13)" text-rendering="geometricPrecision" text-anchor="end" font-size="8.7" fill="#000" stroke="#000" stroke-width="0.12">1875</text>
<text transform="translate(996.98,523.8) rotate(-90) scale(1,1.13)" text-rendering="geometricPrecision" text-anchor="end" font-size="8.7" fill="#000" stroke="#000" stroke-width="0.12">1876</text>
<text transform="translate(1009.64,523.8) rotate(-90) scale(1,1.13)" text-rendering="geometricPrecision" text-anchor="end" font-size="8.7" fill="#000" stroke="#000" stroke-width="0.12">1877</text>
<text transform="translate(1022.29,523.8) rotate(-90) scale(1,1.13)" text-rendering="geometricPrecision" text-anchor="end" font-size="8.7" fill="#000" stroke="#000" stroke-width="0.12">1878</text>
<text transform="translate(1034.94,523.8) rotate(-90) scale(1,1.13)" text-rendering="geometricPrecision" text-anchor="end" font-size="8.7" fill="#000" stroke="#000" stroke-width="0.12">1879</text>
<text transform="translate(1047.60,523.8) rotate(-90) scale(1,1.13)" text-rendering="geometricPrecision" text-anchor="end" font-size="8.7" fill="#000" stroke="#000" stroke-width="0.12">1880</text>
<text transform="translate(1060.25,523.8) rotate(-90) scale(1,1.13)" text-rendering="geometricPrecision" text-anchor="end" font-size="8.7" fill="#000" stroke="#000" stroke-width="0.12">1882</text>
<text transform="translate(1072.91,523.8) rotate(-90) scale(1,1.13)" text-rendering="geometricPrecision" text-anchor="end" font-size="8.7" fill="#000" stroke="#000" stroke-width="0.12">1883</text>
<text transform="translate(1085.56,523.8) rotate(-90) scale(1,1.13)" text-rendering="geometricPrecision" text-anchor="end" font-size="8.7" fill="#000" stroke="#000" stroke-width="0.12">1884</text>
<text transform="translate(1098.21,523.8) rotate(-90) scale(1,1.13)" text-rendering="geometricPrecision" text-anchor="end" font-size="8.7" fill="#000" stroke="#000" stroke-width="0.12">1886</text>
<text transform="translate(1110.87,523.8) rotate(-90) scale(1,1.13)" text-rendering="geometricPrecision" text-anchor="end" font-size="8.7" fill="#000" stroke="#000" stroke-width="0.12">1887</text>
<text transform="translate(1123.52,523.8) rotate(-90) scale(1,1.13)" text-rendering="geometricPrecision" text-anchor="end" font-size="8.7" fill="#000" stroke="#000" stroke-width="0.12">1889</text>
<text transform="translate(1136.18,523.8) rotate(-90) scale(1,1.13)" text-rendering="geometricPrecision" text-anchor="end" font-size="8.7" fill="#000" stroke="#000" stroke-width="0.12">1890</text>
<text transform="translate(1148.83,523.8) rotate(-90) scale(1,1.13)" text-rendering="geometricPrecision" text-anchor="end" font-size="8.7" fill="#000" stroke="#000" stroke-width="0.12">1891</text>
<text transform="translate(1161.48,523.8) rotate(-90) scale(1,1.13)" text-rendering="geometricPrecision" text-anchor="end" font-size="8.7" fill="#000" stroke="#000" stroke-width="0.12">1892</text>
<text transform="translate(1174.14,523.8) rotate(-90) scale(1,1.13)" text-rendering="geometricPrecision" text-anchor="end" font-size="8.7" fill="#000" stroke="#000" stroke-width="0.12">1893</text>
<text transform="translate(1186.79,523.8) rotate(-90) scale(1,1.13)" text-rendering="geometricPrecision" text-anchor="end" font-size="8.7" fill="#000" stroke="#000" stroke-width="0.12">1895</text>
<text transform="translate(1199.45,523.8) rotate(-90) scale(1,1.13)" text-rendering="geometricPrecision" text-anchor="end" font-size="8.7" fill="#000" stroke="#000" stroke-width="0.12">1896</text>
<text transform="translate(1212.10,523.8) rotate(-90) scale(1,1.13)" text-rendering="geometricPrecision" text-anchor="end" font-size="8.7" fill="#000" stroke="#000" stroke-width="0.12">1897</text>
<text transform="translate(1224.75,523.8) rotate(-90) scale(1,1.13)" text-rendering="geometricPrecision" text-anchor="end" font-size="8.7" fill="#000" stroke="#000" stroke-width="0.12">1899</text>
<text transform="translate(1237.41,523.8) rotate(-90) scale(1,1.13)" text-rendering="geometricPrecision" text-anchor="end" font-size="8.7" fill="#000" stroke="#000" stroke-width="0.12">1900</text>
<rect x="0" y="292.9" width="1261" height="3.2" fill="#5A5A5A"/>
<defs><filter id="sh" x="-50%" y="-5%" width="200%" height="110%"><feDropShadow dx="0.8" dy="2.4" stdDeviation="1.5" flood-color="#000" flood-opacity="0.27"/></filter></defs>
<rect x="1063.15" y="38.9" width="27.75" height="518.7" fill="none" stroke="#22EE22" stroke-width="2.3" filter="url(#sh)"/>
</svg>
</body></html>
